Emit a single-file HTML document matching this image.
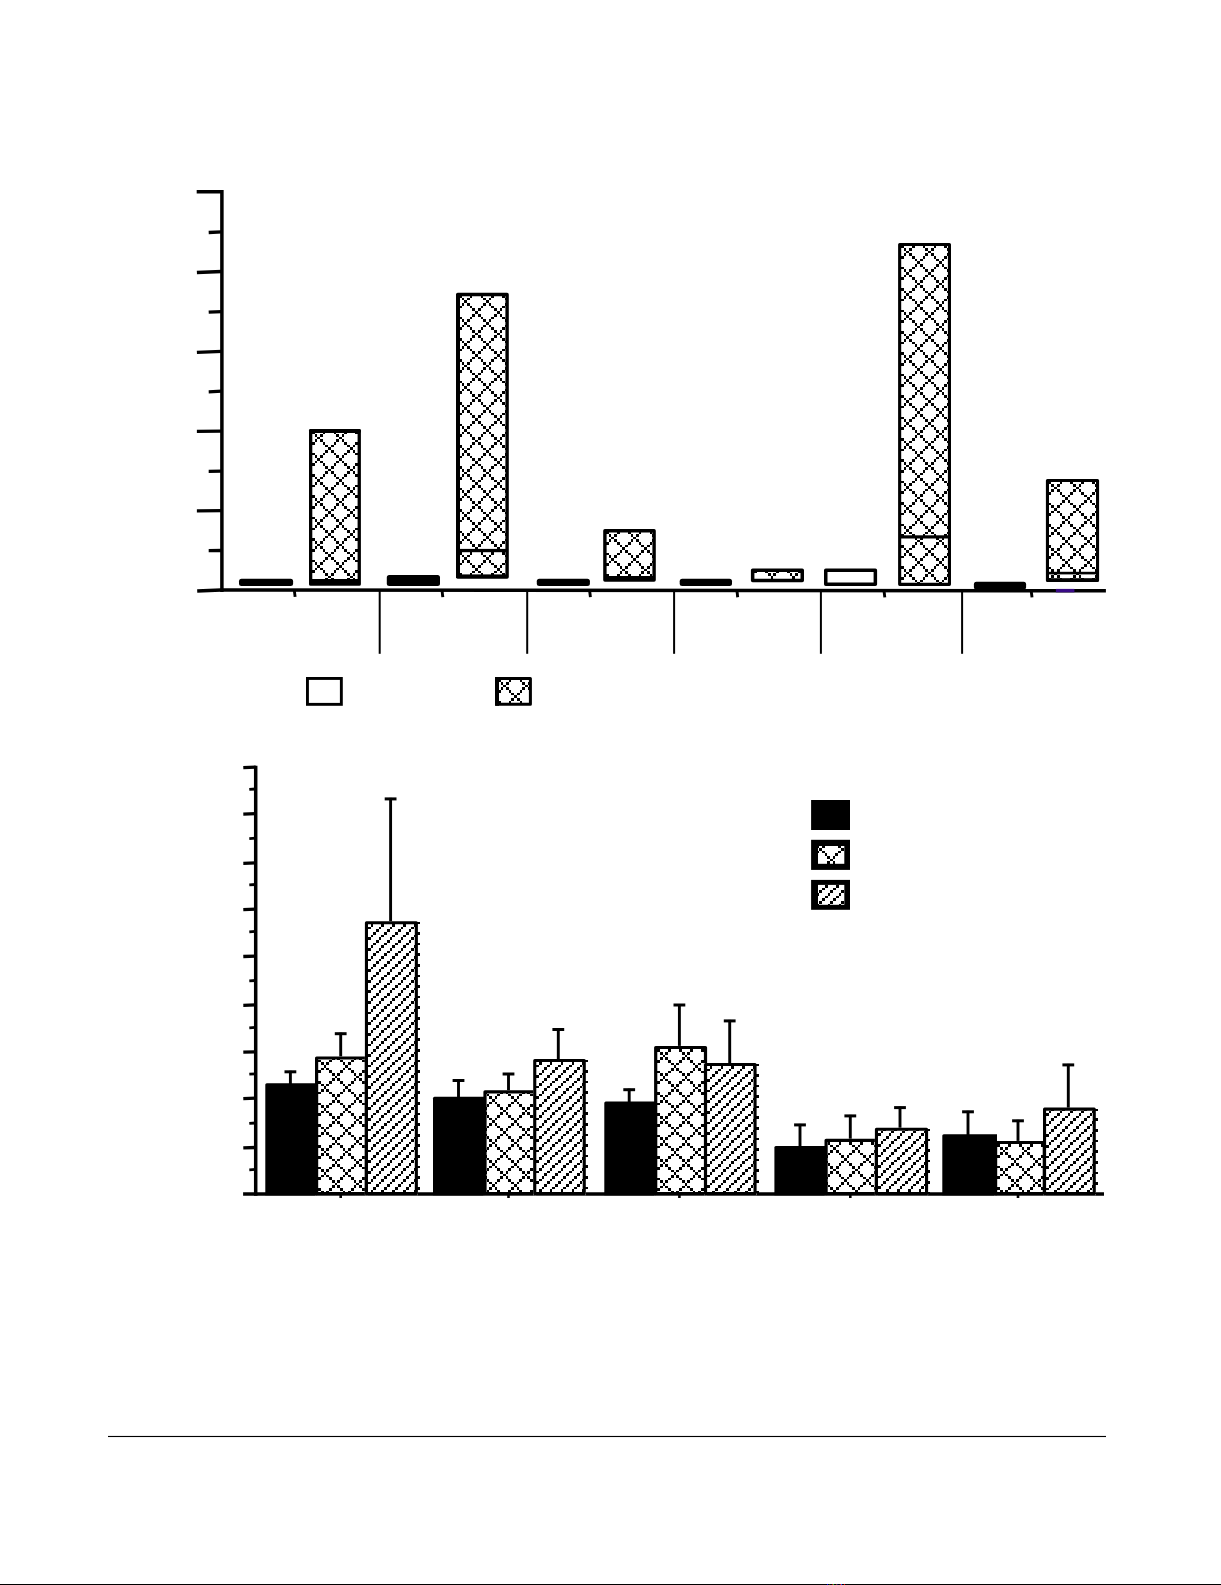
<!DOCTYPE html>
<html><head><meta charset="utf-8"><title>Figure</title>
<style>
html,body{margin:0;padding:0;background:#fff;font-family:"Liberation Sans",sans-serif;}
body{width:1221px;height:1585px;overflow:hidden;position:relative;}
svg{position:absolute;left:0;top:0;display:block;}
</style></head>
<body>
<svg width="1221" height="1585" viewBox="0 0 1221 1585">
<rect width="1221" height="1585" fill="#fff"/>
<line x1="221.90" y1="190.10" x2="221.90" y2="591.90" stroke="#000" stroke-width="3.5" />
<path d="M197.2 591.1 L221 590.1 L1105.9 590.7" fill="none" stroke="#000" stroke-width="3.5"/>
<line x1="196.70" y1="191.80" x2="221.90" y2="191.70" stroke="#000" stroke-width="3.4" />
<line x1="196.90" y1="272.50" x2="221.90" y2="271.50" stroke="#000" stroke-width="3.3" />
<line x1="196.90" y1="352.30" x2="221.90" y2="351.30" stroke="#000" stroke-width="3.3" />
<line x1="196.90" y1="431.30" x2="221.90" y2="431.10" stroke="#000" stroke-width="3.3" />
<line x1="196.90" y1="510.90" x2="221.90" y2="510.70" stroke="#000" stroke-width="3.3" />
<line x1="208.70" y1="232.50" x2="221.90" y2="231.90" stroke="#000" stroke-width="3.3" />
<line x1="208.70" y1="312.20" x2="221.90" y2="311.60" stroke="#000" stroke-width="3.3" />
<line x1="208.70" y1="391.80" x2="221.90" y2="391.20" stroke="#000" stroke-width="3.3" />
<line x1="208.70" y1="471.30" x2="221.90" y2="471.10" stroke="#000" stroke-width="3.3" />
<line x1="208.70" y1="550.70" x2="221.90" y2="550.50" stroke="#000" stroke-width="3.3" />
<line x1="294.30" y1="590.15" x2="295.10" y2="596.95" stroke="#000" stroke-width="2.9" />
<line x1="442.00" y1="590.25" x2="442.80" y2="597.05" stroke="#000" stroke-width="2.9" />
<line x1="589.60" y1="590.35" x2="590.40" y2="597.15" stroke="#000" stroke-width="2.9" />
<line x1="736.90" y1="590.45" x2="737.70" y2="597.25" stroke="#000" stroke-width="2.9" />
<line x1="884.00" y1="590.55" x2="884.80" y2="597.35" stroke="#000" stroke-width="2.9" />
<line x1="1031.20" y1="590.65" x2="1032.00" y2="597.45" stroke="#000" stroke-width="2.9" />
<line x1="379.70" y1="590.10" x2="379.70" y2="653.80" stroke="#000" stroke-width="2.0" />
<line x1="527.20" y1="590.10" x2="527.20" y2="653.80" stroke="#000" stroke-width="2.0" />
<line x1="674.10" y1="590.10" x2="674.10" y2="653.80" stroke="#000" stroke-width="2.0" />
<line x1="820.90" y1="590.10" x2="820.90" y2="653.80" stroke="#000" stroke-width="2.0" />
<line x1="962.10" y1="590.10" x2="962.10" y2="653.80" stroke="#000" stroke-width="2.0" />
<rect x="239.00" y="578.70" width="54.10" height="7.20" rx="2.5" fill="#000"/>
<rect x="386.80" y="575.00" width="53.20" height="10.90" rx="2.5" fill="#000"/>
<rect x="536.80" y="578.70" width="53.10" height="7.20" rx="2.5" fill="#000"/>
<rect x="679.70" y="578.70" width="52.30" height="7.20" rx="2.5" fill="#000"/>
<rect x="973.90" y="581.80" width="52.20" height="7.70" rx="2.5" fill="#000"/>
<rect x="309.00" y="428.90" width="51.90" height="156.90" fill="#fff" />
<path d="M310 430h2v1h-2zM325 430h3v1h-3zM331 430h3v1h-3zM347 430h3v1h-3zM353 430h2v1h-2zM312 431h3v3h-3zM323 431h2v3h-2zM334 431h2v3h-2zM344 431h3v3h-3zM355 431h3v3h-3zM315 434h2v3h-2zM320 434h3v3h-3zM336 434h3v3h-3zM342 434h2v3h-2zM358 434h2v3h-2zM317 437h3v2h-3zM339 437h3v2h-3zM315 439h2v3h-2zM320 439h3v3h-3zM336 439h3v3h-3zM342 439h2v3h-2zM358 439h2v3h-2zM312 442h3v3h-3zM323 442h2v3h-2zM334 442h2v3h-2zM344 442h3v3h-3zM355 442h3v3h-3zM310 445h2v2h-2zM325 445h3v2h-3zM331 445h3v2h-3zM347 445h3v2h-3zM353 445h2v2h-2zM328 447h3v3h-3zM350 447h3v3h-3zM310 450h2v3h-2zM325 450h3v3h-3zM331 450h3v3h-3zM347 450h3v3h-3zM353 450h2v3h-2zM312 453h3v2h-3zM323 453h2v2h-2zM334 453h2v2h-2zM344 453h3v2h-3zM355 453h3v2h-3zM315 455h2v3h-2zM320 455h3v3h-3zM336 455h3v3h-3zM342 455h2v3h-2zM358 455h2v3h-2zM317 458h3v3h-3zM339 458h3v3h-3zM315 461h2v2h-2zM320 461h3v2h-3zM336 461h3v2h-3zM342 461h2v2h-2zM358 461h2v2h-2zM312 463h3v3h-3zM323 463h2v3h-2zM334 463h2v3h-2zM344 463h3v3h-3zM355 463h3v3h-3zM310 466h2v3h-2zM325 466h3v3h-3zM331 466h3v3h-3zM347 466h3v3h-3zM353 466h2v3h-2zM328 469h3v2h-3zM350 469h3v2h-3zM310 471h2v3h-2zM325 471h3v3h-3zM331 471h3v3h-3zM347 471h3v3h-3zM353 471h2v3h-2zM312 474h3v3h-3zM323 474h2v3h-2zM334 474h2v3h-2zM344 474h3v3h-3zM355 474h3v3h-3zM315 477h2v2h-2zM320 477h3v2h-3zM336 477h3v2h-3zM342 477h2v2h-2zM358 477h2v2h-2zM317 479h3v3h-3zM339 479h3v3h-3zM315 482h2v3h-2zM320 482h3v3h-3zM336 482h3v3h-3zM342 482h2v3h-2zM358 482h2v3h-2zM312 485h3v2h-3zM323 485h2v2h-2zM334 485h2v2h-2zM344 485h3v2h-3zM355 485h3v2h-3zM310 487h2v3h-2zM325 487h3v3h-3zM331 487h3v3h-3zM347 487h3v3h-3zM353 487h2v3h-2zM328 490h3v3h-3zM350 490h3v3h-3zM310 493h2v2h-2zM325 493h3v2h-3zM331 493h3v2h-3zM347 493h3v2h-3zM353 493h2v2h-2zM312 495h3v3h-3zM323 495h2v3h-2zM334 495h2v3h-2zM344 495h3v3h-3zM355 495h3v3h-3zM315 498h2v3h-2zM320 498h3v3h-3zM336 498h3v3h-3zM342 498h2v3h-2zM358 498h2v3h-2zM317 501h3v2h-3zM339 501h3v2h-3zM315 503h2v3h-2zM320 503h3v3h-3zM336 503h3v3h-3zM342 503h2v3h-2zM358 503h2v3h-2zM312 506h3v3h-3zM323 506h2v3h-2zM334 506h2v3h-2zM344 506h3v3h-3zM355 506h3v3h-3zM310 509h2v2h-2zM325 509h3v2h-3zM331 509h3v2h-3zM347 509h3v2h-3zM353 509h2v2h-2zM328 511h3v3h-3zM350 511h3v3h-3zM310 514h2v3h-2zM325 514h3v3h-3zM331 514h3v3h-3zM347 514h3v3h-3zM353 514h2v3h-2zM312 517h3v2h-3zM323 517h2v2h-2zM334 517h2v2h-2zM344 517h3v2h-3zM355 517h3v2h-3zM315 519h2v3h-2zM320 519h3v3h-3zM336 519h3v3h-3zM342 519h2v3h-2zM358 519h2v3h-2zM317 522h3v3h-3zM339 522h3v3h-3zM315 525h2v3h-2zM320 525h3v3h-3zM336 525h3v3h-3zM342 525h2v3h-2zM358 525h2v3h-2zM312 528h3v2h-3zM323 528h2v2h-2zM334 528h2v2h-2zM344 528h3v2h-3zM355 528h3v2h-3zM310 530h2v3h-2zM325 530h3v3h-3zM331 530h3v3h-3zM347 530h3v3h-3zM353 530h2v3h-2zM328 533h3v3h-3zM350 533h3v3h-3zM310 536h2v2h-2zM325 536h3v2h-3zM331 536h3v2h-3zM347 536h3v2h-3zM353 536h2v2h-2zM312 538h3v3h-3zM323 538h2v3h-2zM334 538h2v3h-2zM344 538h3v3h-3zM355 538h3v3h-3zM315 541h2v3h-2zM320 541h3v3h-3zM336 541h3v3h-3zM342 541h2v3h-2zM358 541h2v3h-2zM317 544h3v2h-3zM339 544h3v2h-3zM315 546h2v3h-2zM320 546h3v3h-3zM336 546h3v3h-3zM342 546h2v3h-2zM358 546h2v3h-2zM312 549h3v3h-3zM323 549h2v3h-2zM334 549h2v3h-2zM344 549h3v3h-3zM355 549h3v3h-3zM310 552h2v2h-2zM325 552h3v2h-3zM331 552h3v2h-3zM347 552h3v2h-3zM353 552h2v2h-2zM328 554h3v3h-3zM350 554h3v3h-3zM310 557h2v3h-2zM325 557h3v3h-3zM331 557h3v3h-3zM347 557h3v3h-3zM353 557h2v3h-2zM312 560h3v2h-3zM323 560h2v2h-2zM334 560h2v2h-2zM344 560h3v2h-3zM355 560h3v2h-3zM315 562h2v3h-2zM320 562h3v3h-3zM336 562h3v3h-3zM342 562h2v3h-2zM358 562h2v3h-2zM317 565h3v3h-3zM339 565h3v3h-3zM315 568h2v2h-2zM320 568h3v2h-3zM336 568h3v2h-3zM342 568h2v2h-2zM358 568h2v2h-2zM312 570h3v3h-3zM323 570h2v3h-2zM334 570h2v3h-2zM344 570h3v3h-3zM355 570h3v3h-3zM310 573h2v3h-2zM325 573h3v3h-3zM331 573h3v3h-3zM347 573h3v3h-3zM353 573h2v3h-2zM328 576h3v2h-3zM350 576h3v2h-3zM310 578h2v3h-2zM325 578h3v3h-3zM331 578h3v3h-3zM347 578h3v3h-3zM353 578h2v3h-2zM312 581h3v3h-3zM323 581h2v3h-2zM334 581h2v3h-2zM344 581h3v3h-3zM355 581h3v3h-3zM315 584h2v1h-2zM320 584h3v1h-3zM336 584h3v1h-3zM342 584h2v1h-2zM358 584h2v1h-2z" fill="#000" shape-rendering="crispEdges"/>
<rect x="310.65" y="430.55" width="48.60" height="153.60" fill="none" stroke="#000" stroke-width="3.3" stroke-linejoin="round"/>
<rect x="310.00" y="579.00" width="50.00" height="6.00" fill="#000" />
<rect x="309.00" y="428.90" width="51.90" height="4.10" fill="#000" rx="1.5"/>
<rect x="456.00" y="292.80" width="52.80" height="285.90" fill="#fff" />
<path d="M457 294h2v1h-2zM472 294h3v1h-3zM478 294h3v1h-3zM494 294h3v1h-3zM500 294h2v1h-2zM459 295h3v3h-3zM470 295h2v3h-2zM481 295h2v3h-2zM491 295h3v3h-3zM502 295h3v3h-3zM462 298h2v2h-2zM467 298h3v2h-3zM483 298h3v2h-3zM489 298h2v2h-2zM505 298h3v2h-3zM464 300h3v3h-3zM486 300h3v3h-3zM462 303h2v3h-2zM467 303h3v3h-3zM483 303h3v3h-3zM489 303h2v3h-2zM505 303h3v3h-3zM459 306h3v2h-3zM470 306h2v2h-2zM481 306h2v2h-2zM491 306h3v2h-3zM502 306h3v2h-3zM457 308h2v3h-2zM472 308h3v3h-3zM478 308h3v3h-3zM494 308h3v3h-3zM500 308h2v3h-2zM475 311h3v3h-3zM497 311h3v3h-3zM457 314h2v3h-2zM472 314h3v3h-3zM478 314h3v3h-3zM494 314h3v3h-3zM500 314h2v3h-2zM459 317h3v2h-3zM470 317h2v2h-2zM481 317h2v2h-2zM491 317h3v2h-3zM502 317h3v2h-3zM462 319h2v3h-2zM467 319h3v3h-3zM483 319h3v3h-3zM489 319h2v3h-2zM505 319h3v3h-3zM464 322h3v3h-3zM486 322h3v3h-3zM462 325h2v2h-2zM467 325h3v2h-3zM483 325h3v2h-3zM489 325h2v2h-2zM505 325h3v2h-3zM459 327h3v3h-3zM470 327h2v3h-2zM481 327h2v3h-2zM491 327h3v3h-3zM502 327h3v3h-3zM457 330h2v3h-2zM472 330h3v3h-3zM478 330h3v3h-3zM494 330h3v3h-3zM500 330h2v3h-2zM475 333h3v2h-3zM497 333h3v2h-3zM457 335h2v3h-2zM472 335h3v3h-3zM478 335h3v3h-3zM494 335h3v3h-3zM500 335h2v3h-2zM459 338h3v3h-3zM470 338h2v3h-2zM481 338h2v3h-2zM491 338h3v3h-3zM502 338h3v3h-3zM462 341h2v2h-2zM467 341h3v2h-3zM483 341h3v2h-3zM489 341h2v2h-2zM505 341h3v2h-3zM464 343h3v3h-3zM486 343h3v3h-3zM462 346h2v3h-2zM467 346h3v3h-3zM483 346h3v3h-3zM489 346h2v3h-2zM505 346h3v3h-3zM459 349h3v2h-3zM470 349h2v2h-2zM481 349h2v2h-2zM491 349h3v2h-3zM502 349h3v2h-3zM457 351h2v3h-2zM472 351h3v3h-3zM478 351h3v3h-3zM494 351h3v3h-3zM500 351h2v3h-2zM475 354h3v3h-3zM497 354h3v3h-3zM457 357h2v2h-2zM472 357h3v2h-3zM478 357h3v2h-3zM494 357h3v2h-3zM500 357h2v2h-2zM459 359h3v3h-3zM470 359h2v3h-2zM481 359h2v3h-2zM491 359h3v3h-3zM502 359h3v3h-3zM462 362h2v3h-2zM467 362h3v3h-3zM483 362h3v3h-3zM489 362h2v3h-2zM505 362h3v3h-3zM464 365h3v2h-3zM486 365h3v2h-3zM462 367h2v3h-2zM467 367h3v3h-3zM483 367h3v3h-3zM489 367h2v3h-2zM505 367h3v3h-3zM459 370h3v3h-3zM470 370h2v3h-2zM481 370h2v3h-2zM491 370h3v3h-3zM502 370h3v3h-3zM457 373h2v2h-2zM472 373h3v2h-3zM478 373h3v2h-3zM494 373h3v2h-3zM500 373h2v2h-2zM475 375h3v3h-3zM497 375h3v3h-3zM457 378h2v3h-2zM472 378h3v3h-3zM478 378h3v3h-3zM494 378h3v3h-3zM500 378h2v3h-2zM459 381h3v2h-3zM470 381h2v2h-2zM481 381h2v2h-2zM491 381h3v2h-3zM502 381h3v2h-3zM462 383h2v3h-2zM467 383h3v3h-3zM483 383h3v3h-3zM489 383h2v3h-2zM505 383h3v3h-3zM464 386h3v3h-3zM486 386h3v3h-3zM462 389h2v2h-2zM467 389h3v2h-3zM483 389h3v2h-3zM489 389h2v2h-2zM505 389h3v2h-3zM459 391h3v3h-3zM470 391h2v3h-2zM481 391h2v3h-2zM491 391h3v3h-3zM502 391h3v3h-3zM457 394h2v3h-2zM472 394h3v3h-3zM478 394h3v3h-3zM494 394h3v3h-3zM500 394h2v3h-2zM475 397h3v2h-3zM497 397h3v2h-3zM457 399h2v3h-2zM472 399h3v3h-3zM478 399h3v3h-3zM494 399h3v3h-3zM500 399h2v3h-2zM459 402h3v3h-3zM470 402h2v3h-2zM481 402h2v3h-2zM491 402h3v3h-3zM502 402h3v3h-3zM462 405h2v2h-2zM467 405h3v2h-3zM483 405h3v2h-3zM489 405h2v2h-2zM505 405h3v2h-3zM464 407h3v3h-3zM486 407h3v3h-3zM462 410h2v3h-2zM467 410h3v3h-3zM483 410h3v3h-3zM489 410h2v3h-2zM505 410h3v3h-3zM459 413h3v2h-3zM470 413h2v2h-2zM481 413h2v2h-2zM491 413h3v2h-3zM502 413h3v2h-3zM457 415h2v3h-2zM472 415h3v3h-3zM478 415h3v3h-3zM494 415h3v3h-3zM500 415h2v3h-2zM475 418h3v3h-3zM497 418h3v3h-3zM457 421h2v3h-2zM472 421h3v3h-3zM478 421h3v3h-3zM494 421h3v3h-3zM500 421h2v3h-2zM459 424h3v2h-3zM470 424h2v2h-2zM481 424h2v2h-2zM491 424h3v2h-3zM502 424h3v2h-3zM462 426h2v3h-2zM467 426h3v3h-3zM483 426h3v3h-3zM489 426h2v3h-2zM505 426h3v3h-3zM464 429h3v3h-3zM486 429h3v3h-3zM462 432h2v2h-2zM467 432h3v2h-3zM483 432h3v2h-3zM489 432h2v2h-2zM505 432h3v2h-3zM459 434h3v3h-3zM470 434h2v3h-2zM481 434h2v3h-2zM491 434h3v3h-3zM502 434h3v3h-3zM457 437h2v3h-2zM472 437h3v3h-3zM478 437h3v3h-3zM494 437h3v3h-3zM500 437h2v3h-2zM475 440h3v2h-3zM497 440h3v2h-3zM457 442h2v3h-2zM472 442h3v3h-3zM478 442h3v3h-3zM494 442h3v3h-3zM500 442h2v3h-2zM459 445h3v3h-3zM470 445h2v3h-2zM481 445h2v3h-2zM491 445h3v3h-3zM502 445h3v3h-3zM462 448h2v2h-2zM467 448h3v2h-3zM483 448h3v2h-3zM489 448h2v2h-2zM505 448h3v2h-3zM464 450h3v3h-3zM486 450h3v3h-3zM462 453h2v3h-2zM467 453h3v3h-3zM483 453h3v3h-3zM489 453h2v3h-2zM505 453h3v3h-3zM459 456h3v2h-3zM470 456h2v2h-2zM481 456h2v2h-2zM491 456h3v2h-3zM502 456h3v2h-3zM457 458h2v3h-2zM472 458h3v3h-3zM478 458h3v3h-3zM494 458h3v3h-3zM500 458h2v3h-2zM475 461h3v3h-3zM497 461h3v3h-3zM457 464h2v2h-2zM472 464h3v2h-3zM478 464h3v2h-3zM494 464h3v2h-3zM500 464h2v2h-2zM459 466h3v3h-3zM470 466h2v3h-2zM481 466h2v3h-2zM491 466h3v3h-3zM502 466h3v3h-3zM462 469h2v3h-2zM467 469h3v3h-3zM483 469h3v3h-3zM489 469h2v3h-2zM505 469h3v3h-3zM464 472h3v2h-3zM486 472h3v2h-3zM462 474h2v3h-2zM467 474h3v3h-3zM483 474h3v3h-3zM489 474h2v3h-2zM505 474h3v3h-3zM459 477h3v3h-3zM470 477h2v3h-2zM481 477h2v3h-2zM491 477h3v3h-3zM502 477h3v3h-3zM457 480h2v2h-2zM472 480h3v2h-3zM478 480h3v2h-3zM494 480h3v2h-3zM500 480h2v2h-2zM475 482h3v3h-3zM497 482h3v3h-3zM457 485h2v3h-2zM472 485h3v3h-3zM478 485h3v3h-3zM494 485h3v3h-3zM500 485h2v3h-2zM459 488h3v2h-3zM470 488h2v2h-2zM481 488h2v2h-2zM491 488h3v2h-3zM502 488h3v2h-3zM462 490h2v3h-2zM467 490h3v3h-3zM483 490h3v3h-3zM489 490h2v3h-2zM505 490h3v3h-3zM464 493h3v3h-3zM486 493h3v3h-3zM462 496h2v2h-2zM467 496h3v2h-3zM483 496h3v2h-3zM489 496h2v2h-2zM505 496h3v2h-3zM459 498h3v3h-3zM470 498h2v3h-2zM481 498h2v3h-2zM491 498h3v3h-3zM502 498h3v3h-3zM457 501h2v3h-2zM472 501h3v3h-3zM478 501h3v3h-3zM494 501h3v3h-3zM500 501h2v3h-2zM475 504h3v2h-3zM497 504h3v2h-3zM457 506h2v3h-2zM472 506h3v3h-3zM478 506h3v3h-3zM494 506h3v3h-3zM500 506h2v3h-2zM459 509h3v3h-3zM470 509h2v3h-2zM481 509h2v3h-2zM491 509h3v3h-3zM502 509h3v3h-3zM462 512h2v2h-2zM467 512h3v2h-3zM483 512h3v2h-3zM489 512h2v2h-2zM505 512h3v2h-3zM464 514h3v3h-3zM486 514h3v3h-3zM462 517h2v3h-2zM467 517h3v3h-3zM483 517h3v3h-3zM489 517h2v3h-2zM505 517h3v3h-3zM459 520h3v2h-3zM470 520h2v2h-2zM481 520h2v2h-2zM491 520h3v2h-3zM502 520h3v2h-3zM457 522h2v3h-2zM472 522h3v3h-3zM478 522h3v3h-3zM494 522h3v3h-3zM500 522h2v3h-2zM475 525h3v3h-3zM497 525h3v3h-3zM457 528h2v3h-2zM472 528h3v3h-3zM478 528h3v3h-3zM494 528h3v3h-3zM500 528h2v3h-2zM459 531h3v2h-3zM470 531h2v2h-2zM481 531h2v2h-2zM491 531h3v2h-3zM502 531h3v2h-3zM462 533h2v3h-2zM467 533h3v3h-3zM483 533h3v3h-3zM489 533h2v3h-2zM505 533h3v3h-3zM464 536h3v3h-3zM486 536h3v3h-3zM462 539h2v2h-2zM467 539h3v2h-3zM483 539h3v2h-3zM489 539h2v2h-2zM505 539h3v2h-3zM459 541h3v3h-3zM470 541h2v3h-2zM481 541h2v3h-2zM491 541h3v3h-3zM502 541h3v3h-3zM457 544h2v3h-2zM472 544h3v3h-3zM478 544h3v3h-3zM494 544h3v3h-3zM500 544h2v3h-2zM475 547h3v2h-3zM497 547h3v2h-3zM457 549h2v3h-2zM472 549h3v3h-3zM478 549h3v3h-3zM494 549h3v3h-3zM500 549h2v3h-2zM459 552h3v3h-3zM470 552h2v3h-2zM481 552h2v3h-2zM491 552h3v3h-3zM502 552h3v3h-3zM462 555h2v2h-2zM467 555h3v2h-3zM483 555h3v2h-3zM489 555h2v2h-2zM505 555h3v2h-3zM464 557h3v3h-3zM486 557h3v3h-3zM462 560h2v3h-2zM467 560h3v3h-3zM483 560h3v3h-3zM489 560h2v3h-2zM505 560h3v3h-3zM459 563h3v2h-3zM470 563h2v2h-2zM481 563h2v2h-2zM491 563h3v2h-3zM502 563h3v2h-3zM457 565h2v3h-2zM472 565h3v3h-3zM478 565h3v3h-3zM494 565h3v3h-3zM500 565h2v3h-2zM475 568h3v3h-3zM497 568h3v3h-3zM457 571h2v2h-2zM472 571h3v2h-3zM478 571h3v2h-3zM494 571h3v2h-3zM500 571h2v2h-2zM459 573h3v3h-3zM470 573h2v3h-2zM481 573h2v3h-2zM491 573h3v3h-3zM502 573h3v3h-3zM462 576h2v2h-2zM467 576h3v2h-3zM483 576h3v2h-3zM489 576h2v2h-2zM505 576h3v2h-3z" fill="#000" shape-rendering="crispEdges"/>
<rect x="457.70" y="294.50" width="49.40" height="282.50" fill="none" stroke="#000" stroke-width="3.4" stroke-linejoin="round"/>
<rect x="457.00" y="548.90" width="51.00" height="3.30" fill="#000" />
<rect x="456.00" y="294.00" width="4.00" height="284.00" fill="#000" />
<rect x="457.00" y="574.40" width="51.00" height="3.60" fill="#000" />
<rect x="603.20" y="529.00" width="52.60" height="52.80" fill="#fff" />
<path d="M604 530h2v1h-2zM620 530h2v1h-2zM625 530h3v1h-3zM641 530h3v1h-3zM647 530h3v1h-3zM606 531h3v3h-3zM617 531h3v3h-3zM628 531h3v3h-3zM639 531h2v3h-2zM650 531h2v3h-2zM609 534h2v3h-2zM614 534h3v3h-3zM631 534h2v3h-2zM636 534h3v3h-3zM652 534h3v3h-3zM611 537h3v2h-3zM633 537h3v2h-3zM609 539h2v3h-2zM614 539h3v3h-3zM631 539h2v3h-2zM636 539h3v3h-3zM652 539h3v3h-3zM606 542h3v3h-3zM617 542h3v3h-3zM628 542h3v3h-3zM639 542h2v3h-2zM650 542h2v3h-2zM604 545h2v2h-2zM620 545h2v2h-2zM625 545h3v2h-3zM641 545h3v2h-3zM647 545h3v2h-3zM622 547h3v3h-3zM644 547h3v3h-3zM604 550h2v3h-2zM620 550h2v3h-2zM625 550h3v3h-3zM641 550h3v3h-3zM647 550h3v3h-3zM606 553h3v2h-3zM617 553h3v2h-3zM628 553h3v2h-3zM639 553h2v2h-2zM650 553h2v2h-2zM609 555h2v3h-2zM614 555h3v3h-3zM631 555h2v3h-2zM636 555h3v3h-3zM652 555h3v3h-3zM611 558h3v3h-3zM633 558h3v3h-3zM609 561h2v2h-2zM614 561h3v2h-3zM631 561h2v2h-2zM636 561h3v2h-3zM652 561h3v2h-3zM606 563h3v3h-3zM617 563h3v3h-3zM628 563h3v3h-3zM639 563h2v3h-2zM650 563h2v3h-2zM604 566h2v3h-2zM620 566h2v3h-2zM625 566h3v3h-3zM641 566h3v3h-3zM647 566h3v3h-3zM622 569h3v2h-3zM644 569h3v2h-3zM604 571h2v3h-2zM620 571h2v3h-2zM625 571h3v3h-3zM641 571h3v3h-3zM647 571h3v3h-3zM606 574h3v3h-3zM617 574h3v3h-3zM628 574h3v3h-3zM639 574h2v3h-2zM650 574h2v3h-2zM609 577h2v2h-2zM614 577h3v2h-3zM631 577h2v2h-2zM636 577h3v2h-3zM652 577h3v2h-3zM611 579h3v2h-3zM633 579h3v2h-3z" fill="#000" shape-rendering="crispEdges"/>
<rect x="604.90" y="530.70" width="49.20" height="49.40" fill="none" stroke="#000" stroke-width="3.4" stroke-linejoin="round"/>
<rect x="604.00" y="576.00" width="51.00" height="5.00" fill="#000" />
<rect x="750.90" y="568.60" width="53.10" height="13.60" fill="#fff" />
<path d="M757 570h3v1h-3zM762 570h3v1h-3zM779 570h3v1h-3zM784 570h3v1h-3zM801 570h2v1h-2zM754 571h3v2h-3zM765 571h3v2h-3zM776 571h3v2h-3zM787 571h3v2h-3zM798 571h3v2h-3zM752 573h2v3h-2zM768 573h3v3h-3zM773 573h3v3h-3zM790 573h2v3h-2zM795 573h3v3h-3zM771 576h2v3h-2zM792 576h3v3h-3zM752 579h2v2h-2zM768 579h3v2h-3zM773 579h3v2h-3zM790 579h2v2h-2zM795 579h3v2h-3z" fill="#000" shape-rendering="crispEdges"/>
<rect x="752.65" y="570.35" width="49.60" height="10.10" fill="none" stroke="#000" stroke-width="3.5" stroke-linejoin="round"/>
<rect x="825.75" y="570.35" width="49.60" height="13.80" fill="none" stroke="#000" stroke-width="3.5" stroke-linejoin="round"/>
<rect x="898.10" y="243.00" width="52.90" height="342.90" fill="#fff" />
<path d="M899 244h2v1h-2zM915 244h2v1h-2zM920 244h3v1h-3zM936 244h3v1h-3zM942 244h2v1h-2zM901 245h3v3h-3zM912 245h3v3h-3zM923 245h2v3h-2zM934 245h2v3h-2zM944 245h3v3h-3zM904 248h2v3h-2zM909 248h3v3h-3zM925 248h3v3h-3zM931 248h3v3h-3zM947 248h3v3h-3zM906 251h3v2h-3zM928 251h3v2h-3zM904 253h2v3h-2zM909 253h3v3h-3zM925 253h3v3h-3zM931 253h3v3h-3zM947 253h3v3h-3zM901 256h3v3h-3zM912 256h3v3h-3zM923 256h2v3h-2zM934 256h2v3h-2zM944 256h3v3h-3zM899 259h2v2h-2zM915 259h2v2h-2zM920 259h3v2h-3zM936 259h3v2h-3zM942 259h2v2h-2zM917 261h3v3h-3zM939 261h3v3h-3zM899 264h2v3h-2zM915 264h2v3h-2zM920 264h3v3h-3zM936 264h3v3h-3zM942 264h2v3h-2zM901 267h3v2h-3zM912 267h3v2h-3zM923 267h2v2h-2zM934 267h2v2h-2zM944 267h3v2h-3zM904 269h2v3h-2zM909 269h3v3h-3zM925 269h3v3h-3zM931 269h3v3h-3zM947 269h3v3h-3zM906 272h3v3h-3zM928 272h3v3h-3zM904 275h2v2h-2zM909 275h3v2h-3zM925 275h3v2h-3zM931 275h3v2h-3zM947 275h3v2h-3zM901 277h3v3h-3zM912 277h3v3h-3zM923 277h2v3h-2zM934 277h2v3h-2zM944 277h3v3h-3zM899 280h2v3h-2zM915 280h2v3h-2zM920 280h3v3h-3zM936 280h3v3h-3zM942 280h2v3h-2zM917 283h3v2h-3zM939 283h3v2h-3zM899 285h2v3h-2zM915 285h2v3h-2zM920 285h3v3h-3zM936 285h3v3h-3zM942 285h2v3h-2zM901 288h3v3h-3zM912 288h3v3h-3zM923 288h2v3h-2zM934 288h2v3h-2zM944 288h3v3h-3zM904 291h2v2h-2zM909 291h3v2h-3zM925 291h3v2h-3zM931 291h3v2h-3zM947 291h3v2h-3zM906 293h3v3h-3zM928 293h3v3h-3zM904 296h2v3h-2zM909 296h3v3h-3zM925 296h3v3h-3zM931 296h3v3h-3zM947 296h3v3h-3zM901 299h3v2h-3zM912 299h3v2h-3zM923 299h2v2h-2zM934 299h2v2h-2zM944 299h3v2h-3zM899 301h2v3h-2zM915 301h2v3h-2zM920 301h3v3h-3zM936 301h3v3h-3zM942 301h2v3h-2zM917 304h3v3h-3zM939 304h3v3h-3zM899 307h2v3h-2zM915 307h2v3h-2zM920 307h3v3h-3zM936 307h3v3h-3zM942 307h2v3h-2zM901 310h3v2h-3zM912 310h3v2h-3zM923 310h2v2h-2zM934 310h2v2h-2zM944 310h3v2h-3zM904 312h2v3h-2zM909 312h3v3h-3zM925 312h3v3h-3zM931 312h3v3h-3zM947 312h3v3h-3zM906 315h3v3h-3zM928 315h3v3h-3zM904 318h2v2h-2zM909 318h3v2h-3zM925 318h3v2h-3zM931 318h3v2h-3zM947 318h3v2h-3zM901 320h3v3h-3zM912 320h3v3h-3zM923 320h2v3h-2zM934 320h2v3h-2zM944 320h3v3h-3zM899 323h2v3h-2zM915 323h2v3h-2zM920 323h3v3h-3zM936 323h3v3h-3zM942 323h2v3h-2zM917 326h3v2h-3zM939 326h3v2h-3zM899 328h2v3h-2zM915 328h2v3h-2zM920 328h3v3h-3zM936 328h3v3h-3zM942 328h2v3h-2zM901 331h3v3h-3zM912 331h3v3h-3zM923 331h2v3h-2zM934 331h2v3h-2zM944 331h3v3h-3zM904 334h2v2h-2zM909 334h3v2h-3zM925 334h3v2h-3zM931 334h3v2h-3zM947 334h3v2h-3zM906 336h3v3h-3zM928 336h3v3h-3zM904 339h2v3h-2zM909 339h3v3h-3zM925 339h3v3h-3zM931 339h3v3h-3zM947 339h3v3h-3zM901 342h3v2h-3zM912 342h3v2h-3zM923 342h2v2h-2zM934 342h2v2h-2zM944 342h3v2h-3zM899 344h2v3h-2zM915 344h2v3h-2zM920 344h3v3h-3zM936 344h3v3h-3zM942 344h2v3h-2zM917 347h3v3h-3zM939 347h3v3h-3zM899 350h2v2h-2zM915 350h2v2h-2zM920 350h3v2h-3zM936 350h3v2h-3zM942 350h2v2h-2zM901 352h3v3h-3zM912 352h3v3h-3zM923 352h2v3h-2zM934 352h2v3h-2zM944 352h3v3h-3zM904 355h2v3h-2zM909 355h3v3h-3zM925 355h3v3h-3zM931 355h3v3h-3zM947 355h3v3h-3zM906 358h3v2h-3zM928 358h3v2h-3zM904 360h2v3h-2zM909 360h3v3h-3zM925 360h3v3h-3zM931 360h3v3h-3zM947 360h3v3h-3zM901 363h3v3h-3zM912 363h3v3h-3zM923 363h2v3h-2zM934 363h2v3h-2zM944 363h3v3h-3zM899 366h2v2h-2zM915 366h2v2h-2zM920 366h3v2h-3zM936 366h3v2h-3zM942 366h2v2h-2zM917 368h3v3h-3zM939 368h3v3h-3zM899 371h2v3h-2zM915 371h2v3h-2zM920 371h3v3h-3zM936 371h3v3h-3zM942 371h2v3h-2zM901 374h3v2h-3zM912 374h3v2h-3zM923 374h2v2h-2zM934 374h2v2h-2zM944 374h3v2h-3zM904 376h2v3h-2zM909 376h3v3h-3zM925 376h3v3h-3zM931 376h3v3h-3zM947 376h3v3h-3zM906 379h3v3h-3zM928 379h3v3h-3zM904 382h2v2h-2zM909 382h3v2h-3zM925 382h3v2h-3zM931 382h3v2h-3zM947 382h3v2h-3zM901 384h3v3h-3zM912 384h3v3h-3zM923 384h2v3h-2zM934 384h2v3h-2zM944 384h3v3h-3zM899 387h2v3h-2zM915 387h2v3h-2zM920 387h3v3h-3zM936 387h3v3h-3zM942 387h2v3h-2zM917 390h3v2h-3zM939 390h3v2h-3zM899 392h2v3h-2zM915 392h2v3h-2zM920 392h3v3h-3zM936 392h3v3h-3zM942 392h2v3h-2zM901 395h3v3h-3zM912 395h3v3h-3zM923 395h2v3h-2zM934 395h2v3h-2zM944 395h3v3h-3zM904 398h2v2h-2zM909 398h3v2h-3zM925 398h3v2h-3zM931 398h3v2h-3zM947 398h3v2h-3zM906 400h3v3h-3zM928 400h3v3h-3zM904 403h2v3h-2zM909 403h3v3h-3zM925 403h3v3h-3zM931 403h3v3h-3zM947 403h3v3h-3zM901 406h3v2h-3zM912 406h3v2h-3zM923 406h2v2h-2zM934 406h2v2h-2zM944 406h3v2h-3zM899 408h2v3h-2zM915 408h2v3h-2zM920 408h3v3h-3zM936 408h3v3h-3zM942 408h2v3h-2zM917 411h3v3h-3zM939 411h3v3h-3zM899 414h2v3h-2zM915 414h2v3h-2zM920 414h3v3h-3zM936 414h3v3h-3zM942 414h2v3h-2zM901 417h3v2h-3zM912 417h3v2h-3zM923 417h2v2h-2zM934 417h2v2h-2zM944 417h3v2h-3zM904 419h2v3h-2zM909 419h3v3h-3zM925 419h3v3h-3zM931 419h3v3h-3zM947 419h3v3h-3zM906 422h3v3h-3zM928 422h3v3h-3zM904 425h2v2h-2zM909 425h3v2h-3zM925 425h3v2h-3zM931 425h3v2h-3zM947 425h3v2h-3zM901 427h3v3h-3zM912 427h3v3h-3zM923 427h2v3h-2zM934 427h2v3h-2zM944 427h3v3h-3zM899 430h2v3h-2zM915 430h2v3h-2zM920 430h3v3h-3zM936 430h3v3h-3zM942 430h2v3h-2zM917 433h3v2h-3zM939 433h3v2h-3zM899 435h2v3h-2zM915 435h2v3h-2zM920 435h3v3h-3zM936 435h3v3h-3zM942 435h2v3h-2zM901 438h3v3h-3zM912 438h3v3h-3zM923 438h2v3h-2zM934 438h2v3h-2zM944 438h3v3h-3zM904 441h2v2h-2zM909 441h3v2h-3zM925 441h3v2h-3zM931 441h3v2h-3zM947 441h3v2h-3zM906 443h3v3h-3zM928 443h3v3h-3zM904 446h2v3h-2zM909 446h3v3h-3zM925 446h3v3h-3zM931 446h3v3h-3zM947 446h3v3h-3zM901 449h3v2h-3zM912 449h3v2h-3zM923 449h2v2h-2zM934 449h2v2h-2zM944 449h3v2h-3zM899 451h2v3h-2zM915 451h2v3h-2zM920 451h3v3h-3zM936 451h3v3h-3zM942 451h2v3h-2zM917 454h3v3h-3zM939 454h3v3h-3zM899 457h2v2h-2zM915 457h2v2h-2zM920 457h3v2h-3zM936 457h3v2h-3zM942 457h2v2h-2zM901 459h3v3h-3zM912 459h3v3h-3zM923 459h2v3h-2zM934 459h2v3h-2zM944 459h3v3h-3zM904 462h2v3h-2zM909 462h3v3h-3zM925 462h3v3h-3zM931 462h3v3h-3zM947 462h3v3h-3zM906 465h3v2h-3zM928 465h3v2h-3zM904 467h2v3h-2zM909 467h3v3h-3zM925 467h3v3h-3zM931 467h3v3h-3zM947 467h3v3h-3zM901 470h3v3h-3zM912 470h3v3h-3zM923 470h2v3h-2zM934 470h2v3h-2zM944 470h3v3h-3zM899 473h2v2h-2zM915 473h2v2h-2zM920 473h3v2h-3zM936 473h3v2h-3zM942 473h2v2h-2zM917 475h3v3h-3zM939 475h3v3h-3zM899 478h2v3h-2zM915 478h2v3h-2zM920 478h3v3h-3zM936 478h3v3h-3zM942 478h2v3h-2zM901 481h3v2h-3zM912 481h3v2h-3zM923 481h2v2h-2zM934 481h2v2h-2zM944 481h3v2h-3zM904 483h2v3h-2zM909 483h3v3h-3zM925 483h3v3h-3zM931 483h3v3h-3zM947 483h3v3h-3zM906 486h3v3h-3zM928 486h3v3h-3zM904 489h2v2h-2zM909 489h3v2h-3zM925 489h3v2h-3zM931 489h3v2h-3zM947 489h3v2h-3zM901 491h3v3h-3zM912 491h3v3h-3zM923 491h2v3h-2zM934 491h2v3h-2zM944 491h3v3h-3zM899 494h2v3h-2zM915 494h2v3h-2zM920 494h3v3h-3zM936 494h3v3h-3zM942 494h2v3h-2zM917 497h3v2h-3zM939 497h3v2h-3zM899 499h2v3h-2zM915 499h2v3h-2zM920 499h3v3h-3zM936 499h3v3h-3zM942 499h2v3h-2zM901 502h3v3h-3zM912 502h3v3h-3zM923 502h2v3h-2zM934 502h2v3h-2zM944 502h3v3h-3zM904 505h2v2h-2zM909 505h3v2h-3zM925 505h3v2h-3zM931 505h3v2h-3zM947 505h3v2h-3zM906 507h3v3h-3zM928 507h3v3h-3zM904 510h2v3h-2zM909 510h3v3h-3zM925 510h3v3h-3zM931 510h3v3h-3zM947 510h3v3h-3zM901 513h3v2h-3zM912 513h3v2h-3zM923 513h2v2h-2zM934 513h2v2h-2zM944 513h3v2h-3zM899 515h2v3h-2zM915 515h2v3h-2zM920 515h3v3h-3zM936 515h3v3h-3zM942 515h2v3h-2zM917 518h3v3h-3zM939 518h3v3h-3zM899 521h2v3h-2zM915 521h2v3h-2zM920 521h3v3h-3zM936 521h3v3h-3zM942 521h2v3h-2zM901 524h3v2h-3zM912 524h3v2h-3zM923 524h2v2h-2zM934 524h2v2h-2zM944 524h3v2h-3zM904 526h2v3h-2zM909 526h3v3h-3zM925 526h3v3h-3zM931 526h3v3h-3zM947 526h3v3h-3zM906 529h3v3h-3zM928 529h3v3h-3zM904 532h2v2h-2zM909 532h3v2h-3zM925 532h3v2h-3zM931 532h3v2h-3zM947 532h3v2h-3zM901 534h3v3h-3zM912 534h3v3h-3zM923 534h2v3h-2zM934 534h2v3h-2zM944 534h3v3h-3zM899 537h2v3h-2zM915 537h2v3h-2zM920 537h3v3h-3zM936 537h3v3h-3zM942 537h2v3h-2zM917 540h3v2h-3zM939 540h3v2h-3zM899 542h2v3h-2zM915 542h2v3h-2zM920 542h3v3h-3zM936 542h3v3h-3zM942 542h2v3h-2zM901 545h3v3h-3zM912 545h3v3h-3zM923 545h2v3h-2zM934 545h2v3h-2zM944 545h3v3h-3zM904 548h2v2h-2zM909 548h3v2h-3zM925 548h3v2h-3zM931 548h3v2h-3zM947 548h3v2h-3zM906 550h3v3h-3zM928 550h3v3h-3zM904 553h2v3h-2zM909 553h3v3h-3zM925 553h3v3h-3zM931 553h3v3h-3zM947 553h3v3h-3zM901 556h3v2h-3zM912 556h3v2h-3zM923 556h2v2h-2zM934 556h2v2h-2zM944 556h3v2h-3zM899 558h2v3h-2zM915 558h2v3h-2zM920 558h3v3h-3zM936 558h3v3h-3zM942 558h2v3h-2zM917 561h3v3h-3zM939 561h3v3h-3zM899 564h2v2h-2zM915 564h2v2h-2zM920 564h3v2h-3zM936 564h3v2h-3zM942 564h2v2h-2zM901 566h3v3h-3zM912 566h3v3h-3zM923 566h2v3h-2zM934 566h2v3h-2zM944 566h3v3h-3zM904 569h2v3h-2zM909 569h3v3h-3zM925 569h3v3h-3zM931 569h3v3h-3zM947 569h3v3h-3zM906 572h3v2h-3zM928 572h3v2h-3zM904 574h2v3h-2zM909 574h3v3h-3zM925 574h3v3h-3zM931 574h3v3h-3zM947 574h3v3h-3zM901 577h3v3h-3zM912 577h3v3h-3zM923 577h2v3h-2zM934 577h2v3h-2zM944 577h3v3h-3zM899 580h2v2h-2zM915 580h2v2h-2zM920 580h3v2h-3zM936 580h3v2h-3zM942 580h2v2h-2zM917 582h3v3h-3zM939 582h3v3h-3z" fill="#000" shape-rendering="crispEdges"/>
<rect x="899.65" y="244.55" width="49.80" height="339.80" fill="none" stroke="#000" stroke-width="3.1" stroke-linejoin="round"/>
<rect x="899.00" y="535.30" width="51.00" height="3.20" fill="#000" />
<rect x="1045.90" y="478.90" width="53.20" height="103.10" fill="#fff" />
<path d="M1047 480h2v1h-2zM1062 480h3v1h-3zM1068 480h2v1h-2zM1084 480h3v1h-3zM1090 480h2v1h-2zM1049 481h2v3h-2zM1060 481h2v3h-2zM1070 481h3v3h-3zM1081 481h3v3h-3zM1092 481h3v3h-3zM1051 484h3v3h-3zM1057 484h3v3h-3zM1073 484h3v3h-3zM1079 484h2v3h-2zM1095 484h3v3h-3zM1054 487h3v2h-3zM1076 487h3v2h-3zM1051 489h3v3h-3zM1057 489h3v3h-3zM1073 489h3v3h-3zM1079 489h2v3h-2zM1095 489h3v3h-3zM1049 492h2v3h-2zM1060 492h2v3h-2zM1070 492h3v3h-3zM1081 492h3v3h-3zM1092 492h3v3h-3zM1047 495h2v2h-2zM1062 495h3v2h-3zM1068 495h2v2h-2zM1084 495h3v2h-3zM1090 495h2v2h-2zM1065 497h3v3h-3zM1087 497h3v3h-3zM1047 500h2v3h-2zM1062 500h3v3h-3zM1068 500h2v3h-2zM1084 500h3v3h-3zM1090 500h2v3h-2zM1049 503h2v2h-2zM1060 503h2v2h-2zM1070 503h3v2h-3zM1081 503h3v2h-3zM1092 503h3v2h-3zM1051 505h3v3h-3zM1057 505h3v3h-3zM1073 505h3v3h-3zM1079 505h2v3h-2zM1095 505h3v3h-3zM1054 508h3v3h-3zM1076 508h3v3h-3zM1051 511h3v2h-3zM1057 511h3v2h-3zM1073 511h3v2h-3zM1079 511h2v2h-2zM1095 511h3v2h-3zM1049 513h2v3h-2zM1060 513h2v3h-2zM1070 513h3v3h-3zM1081 513h3v3h-3zM1092 513h3v3h-3zM1047 516h2v3h-2zM1062 516h3v3h-3zM1068 516h2v3h-2zM1084 516h3v3h-3zM1090 516h2v3h-2zM1065 519h3v2h-3zM1087 519h3v2h-3zM1047 521h2v3h-2zM1062 521h3v3h-3zM1068 521h2v3h-2zM1084 521h3v3h-3zM1090 521h2v3h-2zM1049 524h2v3h-2zM1060 524h2v3h-2zM1070 524h3v3h-3zM1081 524h3v3h-3zM1092 524h3v3h-3zM1051 527h3v2h-3zM1057 527h3v2h-3zM1073 527h3v2h-3zM1079 527h2v2h-2zM1095 527h3v2h-3zM1054 529h3v3h-3zM1076 529h3v3h-3zM1051 532h3v3h-3zM1057 532h3v3h-3zM1073 532h3v3h-3zM1079 532h2v3h-2zM1095 532h3v3h-3zM1049 535h2v2h-2zM1060 535h2v2h-2zM1070 535h3v2h-3zM1081 535h3v2h-3zM1092 535h3v2h-3zM1047 537h2v3h-2zM1062 537h3v3h-3zM1068 537h2v3h-2zM1084 537h3v3h-3zM1090 537h2v3h-2zM1065 540h3v3h-3zM1087 540h3v3h-3zM1047 543h2v2h-2zM1062 543h3v2h-3zM1068 543h2v2h-2zM1084 543h3v2h-3zM1090 543h2v2h-2zM1049 545h2v3h-2zM1060 545h2v3h-2zM1070 545h3v3h-3zM1081 545h3v3h-3zM1092 545h3v3h-3zM1051 548h3v3h-3zM1057 548h3v3h-3zM1073 548h3v3h-3zM1079 548h2v3h-2zM1095 548h3v3h-3zM1054 551h3v2h-3zM1076 551h3v2h-3zM1051 553h3v3h-3zM1057 553h3v3h-3zM1073 553h3v3h-3zM1079 553h2v3h-2zM1095 553h3v3h-3zM1049 556h2v3h-2zM1060 556h2v3h-2zM1070 556h3v3h-3zM1081 556h3v3h-3zM1092 556h3v3h-3zM1047 559h2v2h-2zM1062 559h3v2h-3zM1068 559h2v2h-2zM1084 559h3v2h-3zM1090 559h2v2h-2zM1065 561h3v3h-3zM1087 561h3v3h-3zM1047 564h2v3h-2zM1062 564h3v3h-3zM1068 564h2v3h-2zM1084 564h3v3h-3zM1090 564h2v3h-2zM1049 567h2v2h-2zM1060 567h2v2h-2zM1070 567h3v2h-3zM1081 567h3v2h-3zM1092 567h3v2h-3zM1051 569h3v3h-3zM1057 569h3v3h-3zM1073 569h3v3h-3zM1079 569h2v3h-2zM1095 569h3v3h-3zM1054 572h3v3h-3zM1076 572h3v3h-3zM1051 575h3v3h-3zM1057 575h3v3h-3zM1073 575h3v3h-3zM1079 575h2v3h-2zM1095 575h3v3h-3zM1049 578h2v2h-2zM1060 578h2v2h-2zM1070 578h3v2h-3zM1081 578h3v2h-3zM1092 578h3v2h-3zM1047 580h2v1h-2zM1062 580h3v1h-3zM1068 580h2v1h-2zM1084 580h3v1h-3zM1090 580h2v1h-2z" fill="#000" shape-rendering="crispEdges"/>
<rect x="1047.45" y="480.45" width="50.10" height="100.00" fill="none" stroke="#000" stroke-width="3.1" stroke-linejoin="round"/>
<rect x="1047.00" y="571.80" width="51.00" height="2.60" fill="#000" />
<rect x="1047.00" y="578.20" width="51.00" height="3.30" fill="#000" />
<rect x="1055.90" y="588.90" width="18.50" height="3.40" fill="#380a85" />
<rect x="307.45" y="678.45" width="33.90" height="25.90" fill="none" stroke="#000" stroke-width="2.9" stroke-linejoin="miter"/>
<rect x="495.00" y="677.00" width="36.90" height="28.80" fill="#fff" />
<path d="M496 678h2v1h-2zM511 678h3v1h-3zM517 678h3v1h-3zM498 679h3v3h-3zM509 679h2v3h-2zM520 679h2v3h-2zM530 679h1v3h-1zM501 682h2v3h-2zM506 682h3v3h-3zM522 682h3v3h-3zM528 682h2v3h-2zM503 685h3v2h-3zM525 685h3v2h-3zM501 687h2v3h-2zM506 687h3v3h-3zM522 687h3v3h-3zM528 687h2v3h-2zM498 690h3v3h-3zM509 690h2v3h-2zM520 690h2v3h-2zM530 690h1v3h-1zM496 693h2v2h-2zM511 693h3v2h-3zM517 693h3v2h-3zM514 695h3v3h-3zM496 698h2v3h-2zM511 698h3v3h-3zM517 698h3v3h-3zM498 701h3v2h-3zM509 701h2v2h-2zM520 701h2v2h-2zM530 701h1v2h-1zM501 703h2v2h-2zM506 703h3v2h-3zM522 703h3v2h-3zM528 703h2v2h-2z" fill="#000" shape-rendering="crispEdges"/>
<rect x="496.50" y="678.50" width="33.90" height="25.80" fill="none" stroke="#000" stroke-width="3.0" stroke-linejoin="round"/>
<rect x="495.00" y="677.00" width="4.00" height="28.80" fill="#000" />
<line x1="255.70" y1="765.80" x2="255.70" y2="1195.70" stroke="#000" stroke-width="3.5" />
<line x1="243.10" y1="1194.00" x2="1104.00" y2="1194.00" stroke="#000" stroke-width="3.5" />
<line x1="243.30" y1="767.60" x2="255.70" y2="767.20" stroke="#000" stroke-width="3.3" />
<line x1="243.30" y1="814.10" x2="255.70" y2="813.70" stroke="#000" stroke-width="3.3" />
<line x1="243.30" y1="863.30" x2="255.70" y2="862.90" stroke="#000" stroke-width="3.3" />
<line x1="243.30" y1="909.60" x2="255.70" y2="909.20" stroke="#000" stroke-width="3.3" />
<line x1="243.30" y1="956.50" x2="255.70" y2="956.10" stroke="#000" stroke-width="3.3" />
<line x1="243.30" y1="1005.30" x2="255.70" y2="1004.90" stroke="#000" stroke-width="3.3" />
<line x1="243.30" y1="1052.20" x2="255.70" y2="1051.80" stroke="#000" stroke-width="3.3" />
<line x1="243.30" y1="1098.60" x2="255.70" y2="1098.20" stroke="#000" stroke-width="3.3" />
<line x1="243.30" y1="1147.90" x2="255.70" y2="1147.50" stroke="#000" stroke-width="3.3" />
<line x1="249.30" y1="789.40" x2="255.70" y2="789.00" stroke="#000" stroke-width="2.8" />
<line x1="249.30" y1="838.60" x2="255.70" y2="838.20" stroke="#000" stroke-width="2.8" />
<line x1="249.30" y1="884.90" x2="255.70" y2="884.50" stroke="#000" stroke-width="2.8" />
<line x1="249.30" y1="931.80" x2="255.70" y2="931.40" stroke="#000" stroke-width="2.8" />
<line x1="249.30" y1="980.90" x2="255.70" y2="980.50" stroke="#000" stroke-width="2.8" />
<line x1="249.30" y1="1027.80" x2="255.70" y2="1027.40" stroke="#000" stroke-width="2.8" />
<line x1="249.30" y1="1074.20" x2="255.70" y2="1073.80" stroke="#000" stroke-width="2.8" />
<line x1="249.30" y1="1123.40" x2="255.70" y2="1123.00" stroke="#000" stroke-width="2.8" />
<line x1="249.30" y1="1169.80" x2="255.70" y2="1169.40" stroke="#000" stroke-width="2.8" />
<line x1="290.40" y1="1070.80" x2="290.40" y2="1084.70" stroke="#000" stroke-width="2.9" />
<line x1="284.50" y1="1071.80" x2="296.30" y2="1071.80" stroke="#000" stroke-width="3.0" />
<line x1="340.70" y1="1032.70" x2="340.70" y2="1057.90" stroke="#000" stroke-width="2.9" />
<line x1="334.80" y1="1033.70" x2="346.60" y2="1033.70" stroke="#000" stroke-width="3.0" />
<line x1="390.60" y1="797.90" x2="390.60" y2="922.70" stroke="#000" stroke-width="2.9" />
<line x1="384.70" y1="798.90" x2="396.50" y2="798.90" stroke="#000" stroke-width="3.0" />
<rect x="315.00" y="1056.40" width="52.90" height="138.80" fill="#fff" />
<path d="M316 1057h2v3h-2zM332 1057h3v3h-3zM337 1057h3v3h-3zM354 1057h2v3h-2zM359 1057h3v3h-3zM318 1060h3v2h-3zM329 1060h3v2h-3zM340 1060h3v2h-3zM351 1060h3v2h-3zM362 1060h3v2h-3zM321 1062h3v3h-3zM326 1062h3v3h-3zM343 1062h2v3h-2zM348 1062h3v3h-3zM365 1062h2v3h-2zM324 1065h2v3h-2zM345 1065h3v3h-3zM321 1068h3v2h-3zM326 1068h3v2h-3zM343 1068h2v2h-2zM348 1068h3v2h-3zM365 1068h2v2h-2zM318 1070h3v3h-3zM329 1070h3v3h-3zM340 1070h3v3h-3zM351 1070h3v3h-3zM362 1070h3v3h-3zM316 1073h2v3h-2zM332 1073h3v3h-3zM337 1073h3v3h-3zM354 1073h2v3h-2zM359 1073h3v3h-3zM335 1076h2v2h-2zM356 1076h3v2h-3zM316 1078h2v3h-2zM332 1078h3v3h-3zM337 1078h3v3h-3zM354 1078h2v3h-2zM359 1078h3v3h-3zM318 1081h3v3h-3zM329 1081h3v3h-3zM340 1081h3v3h-3zM351 1081h3v3h-3zM362 1081h3v3h-3zM321 1084h3v2h-3zM326 1084h3v2h-3zM343 1084h2v2h-2zM348 1084h3v2h-3zM365 1084h2v2h-2zM324 1086h2v3h-2zM345 1086h3v3h-3zM321 1089h3v3h-3zM326 1089h3v3h-3zM343 1089h2v3h-2zM348 1089h3v3h-3zM365 1089h2v3h-2zM318 1092h3v2h-3zM329 1092h3v2h-3zM340 1092h3v2h-3zM351 1092h3v2h-3zM362 1092h3v2h-3zM316 1094h2v3h-2zM332 1094h3v3h-3zM337 1094h3v3h-3zM354 1094h2v3h-2zM359 1094h3v3h-3zM335 1097h2v3h-2zM356 1097h3v3h-3zM316 1100h2v3h-2zM332 1100h3v3h-3zM337 1100h3v3h-3zM354 1100h2v3h-2zM359 1100h3v3h-3zM318 1103h3v2h-3zM329 1103h3v2h-3zM340 1103h3v2h-3zM351 1103h3v2h-3zM362 1103h3v2h-3zM321 1105h3v3h-3zM326 1105h3v3h-3zM343 1105h2v3h-2zM348 1105h3v3h-3zM365 1105h2v3h-2zM324 1108h2v3h-2zM345 1108h3v3h-3zM321 1111h3v2h-3zM326 1111h3v2h-3zM343 1111h2v2h-2zM348 1111h3v2h-3zM365 1111h2v2h-2zM318 1113h3v3h-3zM329 1113h3v3h-3zM340 1113h3v3h-3zM351 1113h3v3h-3zM362 1113h3v3h-3zM316 1116h2v3h-2zM332 1116h3v3h-3zM337 1116h3v3h-3zM354 1116h2v3h-2zM359 1116h3v3h-3zM335 1119h2v2h-2zM356 1119h3v2h-3zM316 1121h2v3h-2zM332 1121h3v3h-3zM337 1121h3v3h-3zM354 1121h2v3h-2zM359 1121h3v3h-3zM318 1124h3v3h-3zM329 1124h3v3h-3zM340 1124h3v3h-3zM351 1124h3v3h-3zM362 1124h3v3h-3zM321 1127h3v2h-3zM326 1127h3v2h-3zM343 1127h2v2h-2zM348 1127h3v2h-3zM365 1127h2v2h-2zM324 1129h2v3h-2zM345 1129h3v3h-3zM321 1132h3v3h-3zM326 1132h3v3h-3zM343 1132h2v3h-2zM348 1132h3v3h-3zM365 1132h2v3h-2zM318 1135h3v2h-3zM329 1135h3v2h-3zM340 1135h3v2h-3zM351 1135h3v2h-3zM362 1135h3v2h-3zM316 1137h2v3h-2zM332 1137h3v3h-3zM337 1137h3v3h-3zM354 1137h2v3h-2zM359 1137h3v3h-3zM335 1140h2v3h-2zM356 1140h3v3h-3zM316 1143h2v2h-2zM332 1143h3v2h-3zM337 1143h3v2h-3zM354 1143h2v2h-2zM359 1143h3v2h-3zM318 1145h3v3h-3zM329 1145h3v3h-3zM340 1145h3v3h-3zM351 1145h3v3h-3zM362 1145h3v3h-3zM321 1148h3v3h-3zM326 1148h3v3h-3zM343 1148h2v3h-2zM348 1148h3v3h-3zM365 1148h2v3h-2zM324 1151h2v2h-2zM345 1151h3v2h-3zM321 1153h3v3h-3zM326 1153h3v3h-3zM343 1153h2v3h-2zM348 1153h3v3h-3zM365 1153h2v3h-2zM318 1156h3v3h-3zM329 1156h3v3h-3zM340 1156h3v3h-3zM351 1156h3v3h-3zM362 1156h3v3h-3zM316 1159h2v2h-2zM332 1159h3v2h-3zM337 1159h3v2h-3zM354 1159h2v2h-2zM359 1159h3v2h-3zM335 1161h2v3h-2zM356 1161h3v3h-3zM316 1164h2v3h-2zM332 1164h3v3h-3zM337 1164h3v3h-3zM354 1164h2v3h-2zM359 1164h3v3h-3zM318 1167h3v2h-3zM329 1167h3v2h-3zM340 1167h3v2h-3zM351 1167h3v2h-3zM362 1167h3v2h-3zM321 1169h3v3h-3zM326 1169h3v3h-3zM343 1169h2v3h-2zM348 1169h3v3h-3zM365 1169h2v3h-2zM324 1172h2v3h-2zM345 1172h3v3h-3zM321 1175h3v2h-3zM326 1175h3v2h-3zM343 1175h2v2h-2zM348 1175h3v2h-3zM365 1175h2v2h-2zM318 1177h3v3h-3zM329 1177h3v3h-3zM340 1177h3v3h-3zM351 1177h3v3h-3zM362 1177h3v3h-3zM316 1180h2v3h-2zM332 1180h3v3h-3zM337 1180h3v3h-3zM354 1180h2v3h-2zM359 1180h3v3h-3zM335 1183h2v2h-2zM356 1183h3v2h-3zM316 1185h2v3h-2zM332 1185h3v3h-3zM337 1185h3v3h-3zM354 1185h2v3h-2zM359 1185h3v3h-3zM318 1188h3v3h-3zM329 1188h3v3h-3zM340 1188h3v3h-3zM351 1188h3v3h-3zM362 1188h3v3h-3zM321 1191h3v2h-3zM326 1191h3v2h-3zM343 1191h2v2h-2zM348 1191h3v2h-3zM365 1191h2v2h-2zM324 1193h2v1h-2zM345 1193h3v1h-3z" fill="#000" shape-rendering="crispEdges"/>
<rect x="316.60" y="1058.00" width="49.70" height="135.60" fill="none" stroke="#000" stroke-width="3.2" stroke-linejoin="round"/>
<rect x="364.90" y="921.20" width="53.00" height="274.00" fill="#fff" />
<path d="M373 922h3v2h-3zM384 922h3v2h-3zM395 922h3v2h-3zM406 922h3v2h-3zM417 922h3v2h-3zM371 924h2v3h-2zM381 924h3v3h-3zM392 924h3v3h-3zM403 924h3v3h-3zM414 924h3v3h-3zM368 927h3v2h-3zM379 927h2v2h-2zM390 927h2v2h-2zM401 927h2v2h-2zM411 927h3v2h-3zM366 929h2v3h-2zM376 929h3v3h-3zM387 929h3v3h-3zM398 929h3v3h-3zM409 929h2v3h-2zM373 932h3v3h-3zM384 932h3v3h-3zM395 932h3v3h-3zM406 932h3v3h-3zM417 932h3v3h-3zM371 935h2v2h-2zM381 935h3v2h-3zM392 935h3v2h-3zM403 935h3v2h-3zM414 935h3v2h-3zM368 937h3v3h-3zM379 937h2v3h-2zM390 937h2v3h-2zM401 937h2v3h-2zM411 937h3v3h-3zM366 940h2v3h-2zM376 940h3v3h-3zM387 940h3v3h-3zM398 940h3v3h-3zM409 940h2v3h-2zM373 943h3v2h-3zM384 943h3v2h-3zM395 943h3v2h-3zM406 943h3v2h-3zM417 943h3v2h-3zM371 945h2v3h-2zM381 945h3v3h-3zM392 945h3v3h-3zM403 945h3v3h-3zM414 945h3v3h-3zM368 948h3v3h-3zM379 948h2v3h-2zM390 948h2v3h-2zM401 948h2v3h-2zM411 948h3v3h-3zM366 951h2v2h-2zM376 951h3v2h-3zM387 951h3v2h-3zM398 951h3v2h-3zM409 951h2v2h-2zM373 953h3v3h-3zM384 953h3v3h-3zM395 953h3v3h-3zM406 953h3v3h-3zM417 953h3v3h-3zM371 956h2v3h-2zM381 956h3v3h-3zM392 956h3v3h-3zM403 956h3v3h-3zM414 956h3v3h-3zM368 959h3v2h-3zM379 959h2v2h-2zM390 959h2v2h-2zM401 959h2v2h-2zM411 959h3v2h-3zM366 961h2v3h-2zM376 961h3v3h-3zM387 961h3v3h-3zM398 961h3v3h-3zM409 961h2v3h-2zM373 964h3v3h-3zM384 964h3v3h-3zM395 964h3v3h-3zM406 964h3v3h-3zM417 964h3v3h-3zM371 967h2v2h-2zM381 967h3v2h-3zM392 967h3v2h-3zM403 967h3v2h-3zM414 967h3v2h-3zM368 969h3v3h-3zM379 969h2v3h-2zM390 969h2v3h-2zM401 969h2v3h-2zM411 969h3v3h-3zM366 972h2v3h-2zM376 972h3v3h-3zM387 972h3v3h-3zM398 972h3v3h-3zM409 972h2v3h-2zM373 975h3v2h-3zM384 975h3v2h-3zM395 975h3v2h-3zM406 975h3v2h-3zM417 975h3v2h-3zM371 977h2v3h-2zM381 977h3v3h-3zM392 977h3v3h-3zM403 977h3v3h-3zM414 977h3v3h-3zM368 980h3v3h-3zM379 980h2v3h-2zM390 980h2v3h-2zM401 980h2v3h-2zM411 980h3v3h-3zM366 983h2v2h-2zM376 983h3v2h-3zM387 983h3v2h-3zM398 983h3v2h-3zM409 983h2v2h-2zM373 985h3v3h-3zM384 985h3v3h-3zM395 985h3v3h-3zM406 985h3v3h-3zM417 985h3v3h-3zM371 988h2v2h-2zM381 988h3v2h-3zM392 988h3v2h-3zM403 988h3v2h-3zM414 988h3v2h-3zM368 990h3v3h-3zM379 990h2v3h-2zM390 990h2v3h-2zM401 990h2v3h-2zM411 990h3v3h-3zM366 993h2v3h-2zM376 993h3v3h-3zM387 993h3v3h-3zM398 993h3v3h-3zM409 993h2v3h-2zM373 996h3v2h-3zM384 996h3v2h-3zM395 996h3v2h-3zM406 996h3v2h-3zM417 996h3v2h-3zM371 998h2v3h-2zM381 998h3v3h-3zM392 998h3v3h-3zM403 998h3v3h-3zM414 998h3v3h-3zM368 1001h3v3h-3zM379 1001h2v3h-2zM390 1001h2v3h-2zM401 1001h2v3h-2zM411 1001h3v3h-3zM366 1004h2v2h-2zM376 1004h3v2h-3zM387 1004h3v2h-3zM398 1004h3v2h-3zM409 1004h2v2h-2zM373 1006h3v3h-3zM384 1006h3v3h-3zM395 1006h3v3h-3zM406 1006h3v3h-3zM417 1006h3v3h-3zM371 1009h2v3h-2zM381 1009h3v3h-3zM392 1009h3v3h-3zM403 1009h3v3h-3zM414 1009h3v3h-3zM368 1012h3v2h-3zM379 1012h2v2h-2zM390 1012h2v2h-2zM401 1012h2v2h-2zM411 1012h3v2h-3zM366 1014h2v3h-2zM376 1014h3v3h-3zM387 1014h3v3h-3zM398 1014h3v3h-3zM409 1014h2v3h-2zM373 1017h3v3h-3zM384 1017h3v3h-3zM395 1017h3v3h-3zM406 1017h3v3h-3zM417 1017h3v3h-3zM371 1020h2v2h-2zM381 1020h3v2h-3zM392 1020h3v2h-3zM403 1020h3v2h-3zM414 1020h3v2h-3zM368 1022h3v3h-3zM379 1022h2v3h-2zM390 1022h2v3h-2zM401 1022h2v3h-2zM411 1022h3v3h-3zM366 1025h2v3h-2zM376 1025h3v3h-3zM387 1025h3v3h-3zM398 1025h3v3h-3zM409 1025h2v3h-2zM373 1028h3v2h-3zM384 1028h3v2h-3zM395 1028h3v2h-3zM406 1028h3v2h-3zM417 1028h3v2h-3zM371 1030h2v3h-2zM381 1030h3v3h-3zM392 1030h3v3h-3zM403 1030h3v3h-3zM414 1030h3v3h-3zM368 1033h3v3h-3zM379 1033h2v3h-2zM390 1033h2v3h-2zM401 1033h2v3h-2zM411 1033h3v3h-3zM366 1036h2v2h-2zM376 1036h3v2h-3zM387 1036h3v2h-3zM398 1036h3v2h-3zM409 1036h2v2h-2zM373 1038h3v3h-3zM384 1038h3v3h-3zM395 1038h3v3h-3zM406 1038h3v3h-3zM417 1038h3v3h-3zM371 1041h2v3h-2zM381 1041h3v3h-3zM392 1041h3v3h-3zM403 1041h3v3h-3zM414 1041h3v3h-3zM368 1044h3v2h-3zM379 1044h2v2h-2zM390 1044h2v2h-2zM401 1044h2v2h-2zM411 1044h3v2h-3zM366 1046h2v3h-2zM376 1046h3v3h-3zM387 1046h3v3h-3zM398 1046h3v3h-3zM409 1046h2v3h-2zM373 1049h3v3h-3zM384 1049h3v3h-3zM395 1049h3v3h-3zM406 1049h3v3h-3zM417 1049h3v3h-3zM371 1052h2v2h-2zM381 1052h3v2h-3zM392 1052h3v2h-3zM403 1052h3v2h-3zM414 1052h3v2h-3zM368 1054h3v3h-3zM379 1054h2v3h-2zM390 1054h2v3h-2zM401 1054h2v3h-2zM411 1054h3v3h-3zM366 1057h2v3h-2zM376 1057h3v3h-3zM387 1057h3v3h-3zM398 1057h3v3h-3zM409 1057h2v3h-2zM373 1060h3v2h-3zM384 1060h3v2h-3zM395 1060h3v2h-3zM406 1060h3v2h-3zM417 1060h3v2h-3zM371 1062h2v3h-2zM381 1062h3v3h-3zM392 1062h3v3h-3zM403 1062h3v3h-3zM414 1062h3v3h-3zM368 1065h3v2h-3zM379 1065h2v2h-2zM390 1065h2v2h-2zM401 1065h2v2h-2zM411 1065h3v2h-3zM366 1067h2v3h-2zM376 1067h3v3h-3zM387 1067h3v3h-3zM398 1067h3v3h-3zM409 1067h2v3h-2zM373 1070h3v3h-3zM384 1070h3v3h-3zM395 1070h3v3h-3zM406 1070h3v3h-3zM417 1070h3v3h-3zM371 1073h2v2h-2zM381 1073h3v2h-3zM392 1073h3v2h-3zM403 1073h3v2h-3zM414 1073h3v2h-3zM368 1075h3v3h-3zM379 1075h2v3h-2zM390 1075h2v3h-2zM401 1075h2v3h-2zM411 1075h3v3h-3zM366 1078h2v3h-2zM376 1078h3v3h-3zM387 1078h3v3h-3zM398 1078h3v3h-3zM409 1078h2v3h-2zM373 1081h3v2h-3zM384 1081h3v2h-3zM395 1081h3v2h-3zM406 1081h3v2h-3zM417 1081h3v2h-3zM371 1083h2v3h-2zM381 1083h3v3h-3zM392 1083h3v3h-3zM403 1083h3v3h-3zM414 1083h3v3h-3zM368 1086h3v3h-3zM379 1086h2v3h-2zM390 1086h2v3h-2zM401 1086h2v3h-2zM411 1086h3v3h-3zM366 1089h2v2h-2zM376 1089h3v2h-3zM387 1089h3v2h-3zM398 1089h3v2h-3zM409 1089h2v2h-2zM373 1091h3v3h-3zM384 1091h3v3h-3zM395 1091h3v3h-3zM406 1091h3v3h-3zM417 1091h3v3h-3zM371 1094h2v3h-2zM381 1094h3v3h-3zM392 1094h3v3h-3zM403 1094h3v3h-3zM414 1094h3v3h-3zM368 1097h3v2h-3zM379 1097h2v2h-2zM390 1097h2v2h-2zM401 1097h2v2h-2zM411 1097h3v2h-3zM366 1099h2v3h-2zM376 1099h3v3h-3zM387 1099h3v3h-3zM398 1099h3v3h-3zM409 1099h2v3h-2zM373 1102h3v3h-3zM384 1102h3v3h-3zM395 1102h3v3h-3zM406 1102h3v3h-3zM417 1102h3v3h-3zM371 1105h2v2h-2zM381 1105h3v2h-3zM392 1105h3v2h-3zM403 1105h3v2h-3zM414 1105h3v2h-3zM368 1107h3v3h-3zM379 1107h2v3h-2zM390 1107h2v3h-2zM401 1107h2v3h-2zM411 1107h3v3h-3zM366 1110h2v3h-2zM376 1110h3v3h-3zM387 1110h3v3h-3zM398 1110h3v3h-3zM409 1110h2v3h-2zM373 1113h3v2h-3zM384 1113h3v2h-3zM395 1113h3v2h-3zM406 1113h3v2h-3zM417 1113h3v2h-3zM371 1115h2v3h-2zM381 1115h3v3h-3zM392 1115h3v3h-3zM403 1115h3v3h-3zM414 1115h3v3h-3zM368 1118h3v3h-3zM379 1118h2v3h-2zM390 1118h2v3h-2zM401 1118h2v3h-2zM411 1118h3v3h-3zM366 1121h2v2h-2zM376 1121h3v2h-3zM387 1121h3v2h-3zM398 1121h3v2h-3zM409 1121h2v2h-2zM373 1123h3v3h-3zM384 1123h3v3h-3zM395 1123h3v3h-3zM406 1123h3v3h-3zM417 1123h3v3h-3zM371 1126h2v3h-2zM381 1126h3v3h-3zM392 1126h3v3h-3zM403 1126h3v3h-3zM414 1126h3v3h-3zM368 1129h3v2h-3zM379 1129h2v2h-2zM390 1129h2v2h-2zM401 1129h2v2h-2zM411 1129h3v2h-3zM366 1131h2v3h-2zM376 1131h3v3h-3zM387 1131h3v3h-3zM398 1131h3v3h-3zM409 1131h2v3h-2zM373 1134h3v3h-3zM384 1134h3v3h-3zM395 1134h3v3h-3zM406 1134h3v3h-3zM417 1134h3v3h-3zM371 1137h2v2h-2zM381 1137h3v2h-3zM392 1137h3v2h-3zM403 1137h3v2h-3zM414 1137h3v2h-3zM368 1139h3v3h-3zM379 1139h2v3h-2zM390 1139h2v3h-2zM401 1139h2v3h-2zM411 1139h3v3h-3zM366 1142h2v2h-2zM376 1142h3v2h-3zM387 1142h3v2h-3zM398 1142h3v2h-3zM409 1142h2v2h-2zM373 1144h3v3h-3zM384 1144h3v3h-3zM395 1144h3v3h-3zM406 1144h3v3h-3zM417 1144h3v3h-3zM371 1147h2v3h-2zM381 1147h3v3h-3zM392 1147h3v3h-3zM403 1147h3v3h-3zM414 1147h3v3h-3zM368 1150h3v2h-3zM379 1150h2v2h-2zM390 1150h2v2h-2zM401 1150h2v2h-2zM411 1150h3v2h-3zM366 1152h2v3h-2zM376 1152h3v3h-3zM387 1152h3v3h-3zM398 1152h3v3h-3zM409 1152h2v3h-2zM373 1155h3v3h-3zM384 1155h3v3h-3zM395 1155h3v3h-3zM406 1155h3v3h-3zM417 1155h3v3h-3zM371 1158h2v2h-2zM381 1158h3v2h-3zM392 1158h3v2h-3zM403 1158h3v2h-3zM414 1158h3v2h-3zM368 1160h3v3h-3zM379 1160h2v3h-2zM390 1160h2v3h-2zM401 1160h2v3h-2zM411 1160h3v3h-3zM366 1163h2v3h-2zM376 1163h3v3h-3zM387 1163h3v3h-3zM398 1163h3v3h-3zM409 1163h2v3h-2zM373 1166h3v2h-3zM384 1166h3v2h-3zM395 1166h3v2h-3zM406 1166h3v2h-3zM417 1166h3v2h-3zM371 1168h2v3h-2zM381 1168h3v3h-3zM392 1168h3v3h-3zM403 1168h3v3h-3zM414 1168h3v3h-3zM368 1171h3v3h-3zM379 1171h2v3h-2zM390 1171h2v3h-2zM401 1171h2v3h-2zM411 1171h3v3h-3zM366 1174h2v2h-2zM376 1174h3v2h-3zM387 1174h3v2h-3zM398 1174h3v2h-3zM409 1174h2v2h-2zM373 1176h3v3h-3zM384 1176h3v3h-3zM395 1176h3v3h-3zM406 1176h3v3h-3zM417 1176h3v3h-3zM371 1179h2v3h-2zM381 1179h3v3h-3zM392 1179h3v3h-3zM403 1179h3v3h-3zM414 1179h3v3h-3zM368 1182h3v2h-3zM379 1182h2v2h-2zM390 1182h2v2h-2zM401 1182h2v2h-2zM411 1182h3v2h-3zM366 1184h2v3h-2zM376 1184h3v3h-3zM387 1184h3v3h-3zM398 1184h3v3h-3zM409 1184h2v3h-2zM373 1187h3v3h-3zM384 1187h3v3h-3zM395 1187h3v3h-3zM406 1187h3v3h-3zM417 1187h3v3h-3zM371 1190h2v2h-2zM381 1190h3v2h-3zM392 1190h3v2h-3zM403 1190h3v2h-3zM414 1190h3v2h-3zM368 1192h3v2h-3zM379 1192h2v2h-2zM390 1192h2v2h-2zM401 1192h2v2h-2zM411 1192h3v2h-3z" fill="#000" shape-rendering="crispEdges"/>
<rect x="366.45" y="922.75" width="49.90" height="270.90" fill="none" stroke="#000" stroke-width="3.1" stroke-linejoin="round"/>
<path d="M265.30 1195.20V1084.70Q265.30 1083.20 266.80 1083.20H317.00V1195.20z" fill="#000"/>
<line x1="458.50" y1="1079.50" x2="458.50" y2="1098.30" stroke="#000" stroke-width="2.9" />
<line x1="452.60" y1="1080.50" x2="464.40" y2="1080.50" stroke="#000" stroke-width="3.0" />
<line x1="508.50" y1="1073.00" x2="508.50" y2="1091.70" stroke="#000" stroke-width="2.9" />
<line x1="502.60" y1="1074.00" x2="514.40" y2="1074.00" stroke="#000" stroke-width="3.0" />
<line x1="558.30" y1="1028.50" x2="558.30" y2="1060.50" stroke="#000" stroke-width="2.9" />
<line x1="552.40" y1="1029.50" x2="564.20" y2="1029.50" stroke="#000" stroke-width="3.0" />
<rect x="483.40" y="1090.20" width="52.80" height="105.00" fill="#fff" />
<path d="M484 1091h3v3h-3zM500 1091h3v3h-3zM506 1091h2v3h-2zM522 1091h3v3h-3zM527 1091h3v3h-3zM487 1094h2v2h-2zM497 1094h3v2h-3zM508 1094h3v2h-3zM519 1094h3v2h-3zM530 1094h3v2h-3zM489 1096h3v3h-3zM495 1096h2v3h-2zM511 1096h3v3h-3zM517 1096h2v3h-2zM533 1096h2v3h-2zM492 1099h3v3h-3zM514 1099h3v3h-3zM489 1102h3v2h-3zM495 1102h2v2h-2zM511 1102h3v2h-3zM517 1102h2v2h-2zM533 1102h2v2h-2zM487 1104h2v3h-2zM497 1104h3v3h-3zM508 1104h3v3h-3zM519 1104h3v3h-3zM530 1104h3v3h-3zM484 1107h3v3h-3zM500 1107h3v3h-3zM506 1107h2v3h-2zM522 1107h3v3h-3zM527 1107h3v3h-3zM503 1110h3v2h-3zM525 1110h2v2h-2zM484 1112h3v3h-3zM500 1112h3v3h-3zM506 1112h2v3h-2zM522 1112h3v3h-3zM527 1112h3v3h-3zM487 1115h2v3h-2zM497 1115h3v3h-3zM508 1115h3v3h-3zM519 1115h3v3h-3zM530 1115h3v3h-3zM489 1118h3v2h-3zM495 1118h2v2h-2zM511 1118h3v2h-3zM517 1118h2v2h-2zM533 1118h2v2h-2zM492 1120h3v3h-3zM514 1120h3v3h-3zM489 1123h3v3h-3zM495 1123h2v3h-2zM511 1123h3v3h-3zM517 1123h2v3h-2zM533 1123h2v3h-2zM487 1126h2v2h-2zM497 1126h3v2h-3zM508 1126h3v2h-3zM519 1126h3v2h-3zM530 1126h3v2h-3zM484 1128h3v3h-3zM500 1128h3v3h-3zM506 1128h2v3h-2zM522 1128h3v3h-3zM527 1128h3v3h-3zM503 1131h3v3h-3zM525 1131h2v3h-2zM484 1134h3v2h-3zM500 1134h3v2h-3zM506 1134h2v2h-2zM522 1134h3v2h-3zM527 1134h3v2h-3zM487 1136h2v3h-2zM497 1136h3v3h-3zM508 1136h3v3h-3zM519 1136h3v3h-3zM530 1136h3v3h-3zM489 1139h3v3h-3zM495 1139h2v3h-2zM511 1139h3v3h-3zM517 1139h2v3h-2zM533 1139h2v3h-2zM492 1142h3v2h-3zM514 1142h3v2h-3zM489 1144h3v3h-3zM495 1144h2v3h-2zM511 1144h3v3h-3zM517 1144h2v3h-2zM533 1144h2v3h-2zM487 1147h2v3h-2zM497 1147h3v3h-3zM508 1147h3v3h-3zM519 1147h3v3h-3zM530 1147h3v3h-3zM484 1150h3v2h-3zM500 1150h3v2h-3zM506 1150h2v2h-2zM522 1150h3v2h-3zM527 1150h3v2h-3zM503 1152h3v3h-3zM525 1152h2v3h-2zM484 1155h3v3h-3zM500 1155h3v3h-3zM506 1155h2v3h-2zM522 1155h3v3h-3zM527 1155h3v3h-3zM487 1158h2v2h-2zM497 1158h3v2h-3zM508 1158h3v2h-3zM519 1158h3v2h-3zM530 1158h3v2h-3zM489 1160h3v3h-3zM495 1160h2v3h-2zM511 1160h3v3h-3zM517 1160h2v3h-2zM533 1160h2v3h-2zM492 1163h3v3h-3zM514 1163h3v3h-3zM489 1166h3v2h-3zM495 1166h2v2h-2zM511 1166h3v2h-3zM517 1166h2v2h-2zM533 1166h2v2h-2zM487 1168h2v3h-2zM497 1168h3v3h-3zM508 1168h3v3h-3zM519 1168h3v3h-3zM530 1168h3v3h-3zM484 1171h3v3h-3zM500 1171h3v3h-3zM506 1171h2v3h-2zM522 1171h3v3h-3zM527 1171h3v3h-3zM503 1174h3v2h-3zM525 1174h2v2h-2zM484 1176h3v3h-3zM500 1176h3v3h-3zM506 1176h2v3h-2zM522 1176h3v3h-3zM527 1176h3v3h-3zM487 1179h2v3h-2zM497 1179h3v3h-3zM508 1179h3v3h-3zM519 1179h3v3h-3zM530 1179h3v3h-3zM489 1182h3v2h-3zM495 1182h2v2h-2zM511 1182h3v2h-3zM517 1182h2v2h-2zM533 1182h2v2h-2zM492 1184h3v3h-3zM514 1184h3v3h-3zM489 1187h3v3h-3zM495 1187h2v3h-2zM511 1187h3v3h-3zM517 1187h2v3h-2zM533 1187h2v3h-2zM487 1190h2v2h-2zM497 1190h3v2h-3zM508 1190h3v2h-3zM519 1190h3v2h-3zM530 1190h3v2h-3zM484 1192h3v2h-3zM500 1192h3v2h-3zM506 1192h2v2h-2zM522 1192h3v2h-3zM527 1192h3v2h-3z" fill="#000" shape-rendering="crispEdges"/>
<rect x="485.00" y="1091.80" width="49.60" height="101.80" fill="none" stroke="#000" stroke-width="3.2" stroke-linejoin="round"/>
<rect x="533.20" y="1059.00" width="52.60" height="136.20" fill="#fff" />
<path d="M542 1060h2v2h-2zM552 1060h3v2h-3zM563 1060h3v2h-3zM574 1060h3v2h-3zM585 1060h3v2h-3zM539 1062h3v3h-3zM550 1062h2v3h-2zM561 1062h2v3h-2zM572 1062h2v3h-2zM582 1062h3v3h-3zM536 1065h3v2h-3zM547 1065h3v2h-3zM558 1065h3v2h-3zM569 1065h3v2h-3zM580 1065h2v2h-2zM534 1067h2v3h-2zM544 1067h3v3h-3zM555 1067h3v3h-3zM566 1067h3v3h-3zM577 1067h3v3h-3zM542 1070h2v3h-2zM552 1070h3v3h-3zM563 1070h3v3h-3zM574 1070h3v3h-3zM585 1070h3v3h-3zM539 1073h3v2h-3zM550 1073h2v2h-2zM561 1073h2v2h-2zM572 1073h2v2h-2zM582 1073h3v2h-3zM536 1075h3v3h-3zM547 1075h3v3h-3zM558 1075h3v3h-3zM569 1075h3v3h-3zM580 1075h2v3h-2zM534 1078h2v3h-2zM544 1078h3v3h-3zM555 1078h3v3h-3zM566 1078h3v3h-3zM577 1078h3v3h-3zM542 1081h2v2h-2zM552 1081h3v2h-3zM563 1081h3v2h-3zM574 1081h3v2h-3zM585 1081h3v2h-3zM539 1083h3v3h-3zM550 1083h2v3h-2zM561 1083h2v3h-2zM572 1083h2v3h-2zM582 1083h3v3h-3zM536 1086h3v2h-3zM547 1086h3v2h-3zM558 1086h3v2h-3zM569 1086h3v2h-3zM580 1086h2v2h-2zM534 1088h2v3h-2zM544 1088h3v3h-3zM555 1088h3v3h-3zM566 1088h3v3h-3zM577 1088h3v3h-3zM542 1091h2v3h-2zM552 1091h3v3h-3zM563 1091h3v3h-3zM574 1091h3v3h-3zM585 1091h3v3h-3zM539 1094h3v2h-3zM550 1094h2v2h-2zM561 1094h2v2h-2zM572 1094h2v2h-2zM582 1094h3v2h-3zM536 1096h3v3h-3zM547 1096h3v3h-3zM558 1096h3v3h-3zM569 1096h3v3h-3zM580 1096h2v3h-2zM534 1099h2v3h-2zM544 1099h3v3h-3zM555 1099h3v3h-3zM566 1099h3v3h-3zM577 1099h3v3h-3zM542 1102h2v2h-2zM552 1102h3v2h-3zM563 1102h3v2h-3zM574 1102h3v2h-3zM585 1102h3v2h-3zM539 1104h3v3h-3zM550 1104h2v3h-2zM561 1104h2v3h-2zM572 1104h2v3h-2zM582 1104h3v3h-3zM536 1107h3v3h-3zM547 1107h3v3h-3zM558 1107h3v3h-3zM569 1107h3v3h-3zM580 1107h2v3h-2zM534 1110h2v2h-2zM544 1110h3v2h-3zM555 1110h3v2h-3zM566 1110h3v2h-3zM577 1110h3v2h-3zM542 1112h2v3h-2zM552 1112h3v3h-3zM563 1112h3v3h-3zM574 1112h3v3h-3zM585 1112h3v3h-3zM539 1115h3v3h-3zM550 1115h2v3h-2zM561 1115h2v3h-2zM572 1115h2v3h-2zM582 1115h3v3h-3zM536 1118h3v2h-3zM547 1118h3v2h-3zM558 1118h3v2h-3zM569 1118h3v2h-3zM580 1118h2v2h-2zM534 1120h2v3h-2zM544 1120h3v3h-3zM555 1120h3v3h-3zM566 1120h3v3h-3zM577 1120h3v3h-3zM542 1123h2v3h-2zM552 1123h3v3h-3zM563 1123h3v3h-3zM574 1123h3v3h-3zM585 1123h3v3h-3zM539 1126h3v2h-3zM550 1126h2v2h-2zM561 1126h2v2h-2zM572 1126h2v2h-2zM582 1126h3v2h-3zM536 1128h3v3h-3zM547 1128h3v3h-3zM558 1128h3v3h-3zM569 1128h3v3h-3zM580 1128h2v3h-2zM534 1131h2v3h-2zM544 1131h3v3h-3zM555 1131h3v3h-3zM566 1131h3v3h-3zM577 1131h3v3h-3zM542 1134h2v2h-2zM552 1134h3v2h-3zM563 1134h3v2h-3zM574 1134h3v2h-3zM585 1134h3v2h-3zM539 1136h3v3h-3zM550 1136h2v3h-2zM561 1136h2v3h-2zM572 1136h2v3h-2zM582 1136h3v3h-3zM536 1139h3v3h-3zM547 1139h3v3h-3zM558 1139h3v3h-3zM569 1139h3v3h-3zM580 1139h2v3h-2zM534 1142h2v2h-2zM544 1142h3v2h-3zM555 1142h3v2h-3zM566 1142h3v2h-3zM577 1142h3v2h-3zM542 1144h2v3h-2zM552 1144h3v3h-3zM563 1144h3v3h-3zM574 1144h3v3h-3zM585 1144h3v3h-3zM539 1147h3v3h-3zM550 1147h2v3h-2zM561 1147h2v3h-2zM572 1147h2v3h-2zM582 1147h3v3h-3zM536 1150h3v2h-3zM547 1150h3v2h-3zM558 1150h3v2h-3zM569 1150h3v2h-3zM580 1150h2v2h-2zM534 1152h2v3h-2zM544 1152h3v3h-3zM555 1152h3v3h-3zM566 1152h3v3h-3zM577 1152h3v3h-3zM542 1155h2v2h-2zM552 1155h3v2h-3zM563 1155h3v2h-3zM574 1155h3v2h-3zM585 1155h3v2h-3zM539 1157h3v3h-3zM550 1157h2v3h-2zM561 1157h2v3h-2zM572 1157h2v3h-2zM582 1157h3v3h-3zM536 1160h3v3h-3zM547 1160h3v3h-3zM558 1160h3v3h-3zM569 1160h3v3h-3zM580 1160h2v3h-2zM534 1163h2v2h-2zM544 1163h3v2h-3zM555 1163h3v2h-3zM566 1163h3v2h-3zM577 1163h3v2h-3zM542 1165h2v3h-2zM552 1165h3v3h-3zM563 1165h3v3h-3zM574 1165h3v3h-3zM585 1165h3v3h-3zM539 1168h3v3h-3zM550 1168h2v3h-2zM561 1168h2v3h-2zM572 1168h2v3h-2zM582 1168h3v3h-3zM536 1171h3v2h-3zM547 1171h3v2h-3zM558 1171h3v2h-3zM569 1171h3v2h-3zM580 1171h2v2h-2zM534 1173h2v3h-2zM544 1173h3v3h-3zM555 1173h3v3h-3zM566 1173h3v3h-3zM577 1173h3v3h-3zM542 1176h2v3h-2zM552 1176h3v3h-3zM563 1176h3v3h-3zM574 1176h3v3h-3zM585 1176h3v3h-3zM539 1179h3v2h-3zM550 1179h2v2h-2zM561 1179h2v2h-2zM572 1179h2v2h-2zM582 1179h3v2h-3zM536 1181h3v3h-3zM547 1181h3v3h-3zM558 1181h3v3h-3zM569 1181h3v3h-3zM580 1181h2v3h-2zM534 1184h2v3h-2zM544 1184h3v3h-3zM555 1184h3v3h-3zM566 1184h3v3h-3zM577 1184h3v3h-3zM542 1187h2v2h-2zM552 1187h3v2h-3zM563 1187h3v2h-3zM574 1187h3v2h-3zM585 1187h3v2h-3zM539 1189h3v3h-3zM550 1189h2v3h-2zM561 1189h2v3h-2zM572 1189h2v3h-2zM582 1189h3v3h-3zM536 1192h3v2h-3zM547 1192h3v2h-3zM558 1192h3v2h-3zM569 1192h3v2h-3zM580 1192h2v2h-2z" fill="#000" shape-rendering="crispEdges"/>
<rect x="534.75" y="1060.55" width="49.50" height="133.10" fill="none" stroke="#000" stroke-width="3.1" stroke-linejoin="round"/>
<path d="M433.00 1195.20V1098.30Q433.00 1096.80 434.50 1096.80H485.00V1195.20z" fill="#000"/>
<line x1="629.20" y1="1088.70" x2="629.20" y2="1102.90" stroke="#000" stroke-width="2.9" />
<line x1="623.30" y1="1089.70" x2="635.10" y2="1089.70" stroke="#000" stroke-width="3.0" />
<line x1="679.40" y1="1004.00" x2="679.40" y2="1047.40" stroke="#000" stroke-width="2.9" />
<line x1="673.50" y1="1005.00" x2="685.30" y2="1005.00" stroke="#000" stroke-width="3.0" />
<line x1="729.70" y1="1019.90" x2="729.70" y2="1064.50" stroke="#000" stroke-width="2.9" />
<line x1="723.80" y1="1020.90" x2="735.60" y2="1020.90" stroke="#000" stroke-width="3.0" />
<rect x="654.10" y="1045.90" width="53.00" height="149.30" fill="#fff" />
<path d="M655 1047h2v2h-2zM671 1047h3v2h-3zM676 1047h3v2h-3zM693 1047h2v2h-2zM698 1047h3v2h-3zM657 1049h3v3h-3zM668 1049h3v3h-3zM679 1049h3v3h-3zM690 1049h3v3h-3zM701 1049h3v3h-3zM660 1052h3v3h-3zM665 1052h3v3h-3zM682 1052h3v3h-3zM687 1052h3v3h-3zM704 1052h2v3h-2zM663 1055h2v2h-2zM685 1055h2v2h-2zM660 1057h3v3h-3zM665 1057h3v3h-3zM682 1057h3v3h-3zM687 1057h3v3h-3zM704 1057h2v3h-2zM657 1060h3v3h-3zM668 1060h3v3h-3zM679 1060h3v3h-3zM690 1060h3v3h-3zM701 1060h3v3h-3zM655 1063h2v2h-2zM671 1063h3v2h-3zM676 1063h3v2h-3zM693 1063h2v2h-2zM698 1063h3v2h-3zM674 1065h2v3h-2zM695 1065h3v3h-3zM655 1068h2v3h-2zM671 1068h3v3h-3zM676 1068h3v3h-3zM693 1068h2v3h-2zM698 1068h3v3h-3zM657 1071h3v2h-3zM668 1071h3v2h-3zM679 1071h3v2h-3zM690 1071h3v2h-3zM701 1071h3v2h-3zM660 1073h3v3h-3zM665 1073h3v3h-3zM682 1073h3v3h-3zM687 1073h3v3h-3zM704 1073h2v3h-2zM663 1076h2v3h-2zM685 1076h2v3h-2zM660 1079h3v2h-3zM665 1079h3v2h-3zM682 1079h3v2h-3zM687 1079h3v2h-3zM704 1079h2v2h-2zM657 1081h3v3h-3zM668 1081h3v3h-3zM679 1081h3v3h-3zM690 1081h3v3h-3zM701 1081h3v3h-3zM655 1084h2v3h-2zM671 1084h3v3h-3zM676 1084h3v3h-3zM693 1084h2v3h-2zM698 1084h3v3h-3zM674 1087h2v2h-2zM695 1087h3v2h-3zM655 1089h2v3h-2zM671 1089h3v3h-3zM676 1089h3v3h-3zM693 1089h2v3h-2zM698 1089h3v3h-3zM657 1092h3v3h-3zM668 1092h3v3h-3zM679 1092h3v3h-3zM690 1092h3v3h-3zM701 1092h3v3h-3zM660 1095h3v2h-3zM665 1095h3v2h-3zM682 1095h3v2h-3zM687 1095h3v2h-3zM704 1095h2v2h-2zM663 1097h2v3h-2zM685 1097h2v3h-2zM660 1100h3v3h-3zM665 1100h3v3h-3zM682 1100h3v3h-3zM687 1100h3v3h-3zM704 1100h2v3h-2zM657 1103h3v2h-3zM668 1103h3v2h-3zM679 1103h3v2h-3zM690 1103h3v2h-3zM701 1103h3v2h-3zM655 1105h2v3h-2zM671 1105h3v3h-3zM676 1105h3v3h-3zM693 1105h2v3h-2zM698 1105h3v3h-3zM674 1108h2v3h-2zM695 1108h3v3h-3zM655 1111h2v2h-2zM671 1111h3v2h-3zM676 1111h3v2h-3zM693 1111h2v2h-2zM698 1111h3v2h-3zM657 1113h3v3h-3zM668 1113h3v3h-3zM679 1113h3v3h-3zM690 1113h3v3h-3zM701 1113h3v3h-3zM660 1116h3v3h-3zM665 1116h3v3h-3zM682 1116h3v3h-3zM687 1116h3v3h-3zM704 1116h2v3h-2zM663 1119h2v2h-2zM685 1119h2v2h-2zM660 1121h3v3h-3zM665 1121h3v3h-3zM682 1121h3v3h-3zM687 1121h3v3h-3zM704 1121h2v3h-2zM657 1124h3v3h-3zM668 1124h3v3h-3zM679 1124h3v3h-3zM690 1124h3v3h-3zM701 1124h3v3h-3zM655 1127h2v2h-2zM671 1127h3v2h-3zM676 1127h3v2h-3zM693 1127h2v2h-2zM698 1127h3v2h-3zM674 1129h2v3h-2zM695 1129h3v3h-3zM655 1132h2v3h-2zM671 1132h3v3h-3zM676 1132h3v3h-3zM693 1132h2v3h-2zM698 1132h3v3h-3zM657 1135h3v2h-3zM668 1135h3v2h-3zM679 1135h3v2h-3zM690 1135h3v2h-3zM701 1135h3v2h-3zM660 1137h3v3h-3zM665 1137h3v3h-3zM682 1137h3v3h-3zM687 1137h3v3h-3zM704 1137h2v3h-2zM663 1140h2v3h-2zM685 1140h2v3h-2zM660 1143h3v3h-3zM665 1143h3v3h-3zM682 1143h3v3h-3zM687 1143h3v3h-3zM704 1143h2v3h-2zM657 1146h3v2h-3zM668 1146h3v2h-3zM679 1146h3v2h-3zM690 1146h3v2h-3zM701 1146h3v2h-3zM655 1148h2v3h-2zM671 1148h3v3h-3zM676 1148h3v3h-3zM693 1148h2v3h-2zM698 1148h3v3h-3zM674 1151h2v3h-2zM695 1151h3v3h-3zM655 1154h2v2h-2zM671 1154h3v2h-3zM676 1154h3v2h-3zM693 1154h2v2h-2zM698 1154h3v2h-3zM657 1156h3v3h-3zM668 1156h3v3h-3zM679 1156h3v3h-3zM690 1156h3v3h-3zM701 1156h3v3h-3zM660 1159h3v3h-3zM665 1159h3v3h-3zM682 1159h3v3h-3zM687 1159h3v3h-3zM704 1159h2v3h-2zM663 1162h2v2h-2zM685 1162h2v2h-2zM660 1164h3v3h-3zM665 1164h3v3h-3zM682 1164h3v3h-3zM687 1164h3v3h-3zM704 1164h2v3h-2zM657 1167h3v3h-3zM668 1167h3v3h-3zM679 1167h3v3h-3zM690 1167h3v3h-3zM701 1167h3v3h-3zM655 1170h2v2h-2zM671 1170h3v2h-3zM676 1170h3v2h-3zM693 1170h2v2h-2zM698 1170h3v2h-3zM674 1172h2v3h-2zM695 1172h3v3h-3zM655 1175h2v3h-2zM671 1175h3v3h-3zM676 1175h3v3h-3zM693 1175h2v3h-2zM698 1175h3v3h-3zM657 1178h3v2h-3zM668 1178h3v2h-3zM679 1178h3v2h-3zM690 1178h3v2h-3zM701 1178h3v2h-3zM660 1180h3v3h-3zM665 1180h3v3h-3zM682 1180h3v3h-3zM687 1180h3v3h-3zM704 1180h2v3h-2zM663 1183h2v3h-2zM685 1183h2v3h-2zM660 1186h3v2h-3zM665 1186h3v2h-3zM682 1186h3v2h-3zM687 1186h3v2h-3zM704 1186h2v2h-2zM657 1188h3v3h-3zM668 1188h3v3h-3zM679 1188h3v3h-3zM690 1188h3v3h-3zM701 1188h3v3h-3zM655 1191h2v3h-2zM671 1191h3v3h-3zM676 1191h3v3h-3zM693 1191h2v3h-2zM698 1191h3v3h-3z" fill="#000" shape-rendering="crispEdges"/>
<rect x="655.70" y="1047.50" width="49.80" height="146.10" fill="none" stroke="#000" stroke-width="3.2" stroke-linejoin="round"/>
<rect x="704.00" y="1063.00" width="52.60" height="132.20" fill="#fff" />
<path d="M712 1064h3v2h-3zM723 1064h3v2h-3zM734 1064h3v2h-3zM745 1064h3v2h-3zM756 1064h3v2h-3zM710 1066h2v3h-2zM721 1066h2v3h-2zM731 1066h3v3h-3zM742 1066h3v3h-3zM753 1066h3v3h-3zM707 1069h3v2h-3zM718 1069h3v2h-3zM729 1069h2v2h-2zM740 1069h2v2h-2zM751 1069h2v2h-2zM705 1071h2v3h-2zM715 1071h3v3h-3zM726 1071h3v3h-3zM737 1071h3v3h-3zM748 1071h3v3h-3zM712 1074h3v3h-3zM723 1074h3v3h-3zM734 1074h3v3h-3zM745 1074h3v3h-3zM756 1074h3v3h-3zM710 1077h2v2h-2zM721 1077h2v2h-2zM731 1077h3v2h-3zM742 1077h3v2h-3zM753 1077h3v2h-3zM707 1079h3v3h-3zM718 1079h3v3h-3zM729 1079h2v3h-2zM740 1079h2v3h-2zM751 1079h2v3h-2zM705 1082h2v3h-2zM715 1082h3v3h-3zM726 1082h3v3h-3zM737 1082h3v3h-3zM748 1082h3v3h-3zM712 1085h3v2h-3zM723 1085h3v2h-3zM734 1085h3v2h-3zM745 1085h3v2h-3zM756 1085h3v2h-3zM710 1087h2v3h-2zM721 1087h2v3h-2zM731 1087h3v3h-3zM742 1087h3v3h-3zM753 1087h3v3h-3zM707 1090h3v2h-3zM718 1090h3v2h-3zM729 1090h2v2h-2zM740 1090h2v2h-2zM751 1090h2v2h-2zM705 1092h2v3h-2zM715 1092h3v3h-3zM726 1092h3v3h-3zM737 1092h3v3h-3zM748 1092h3v3h-3zM712 1095h3v3h-3zM723 1095h3v3h-3zM734 1095h3v3h-3zM745 1095h3v3h-3zM756 1095h3v3h-3zM710 1098h2v2h-2zM721 1098h2v2h-2zM731 1098h3v2h-3zM742 1098h3v2h-3zM753 1098h3v2h-3zM707 1100h3v3h-3zM718 1100h3v3h-3zM729 1100h2v3h-2zM740 1100h2v3h-2zM751 1100h2v3h-2zM705 1103h2v3h-2zM715 1103h3v3h-3zM726 1103h3v3h-3zM737 1103h3v3h-3zM748 1103h3v3h-3zM712 1106h3v2h-3zM723 1106h3v2h-3zM734 1106h3v2h-3zM745 1106h3v2h-3zM756 1106h3v2h-3zM710 1108h2v3h-2zM721 1108h2v3h-2zM731 1108h3v3h-3zM742 1108h3v3h-3zM753 1108h3v3h-3zM707 1111h3v3h-3zM718 1111h3v3h-3zM729 1111h2v3h-2zM740 1111h2v3h-2zM751 1111h2v3h-2zM705 1114h2v2h-2zM715 1114h3v2h-3zM726 1114h3v2h-3zM737 1114h3v2h-3zM748 1114h3v2h-3zM712 1116h3v3h-3zM723 1116h3v3h-3zM734 1116h3v3h-3zM745 1116h3v3h-3zM756 1116h3v3h-3zM710 1119h2v3h-2zM721 1119h2v3h-2zM731 1119h3v3h-3zM742 1119h3v3h-3zM753 1119h3v3h-3zM707 1122h3v2h-3zM718 1122h3v2h-3zM729 1122h2v2h-2zM740 1122h2v2h-2zM751 1122h2v2h-2zM705 1124h2v3h-2zM715 1124h3v3h-3zM726 1124h3v3h-3zM737 1124h3v3h-3zM748 1124h3v3h-3zM712 1127h3v3h-3zM723 1127h3v3h-3zM734 1127h3v3h-3zM745 1127h3v3h-3zM756 1127h3v3h-3zM710 1130h2v2h-2zM721 1130h2v2h-2zM731 1130h3v2h-3zM742 1130h3v2h-3zM753 1130h3v2h-3zM707 1132h3v3h-3zM718 1132h3v3h-3zM729 1132h2v3h-2zM740 1132h2v3h-2zM751 1132h2v3h-2zM705 1135h2v3h-2zM715 1135h3v3h-3zM726 1135h3v3h-3zM737 1135h3v3h-3zM748 1135h3v3h-3zM712 1138h3v2h-3zM723 1138h3v2h-3zM734 1138h3v2h-3zM745 1138h3v2h-3zM756 1138h3v2h-3zM710 1140h2v3h-2zM721 1140h2v3h-2zM731 1140h3v3h-3zM742 1140h3v3h-3zM753 1140h3v3h-3zM707 1143h3v3h-3zM718 1143h3v3h-3zM729 1143h2v3h-2zM740 1143h2v3h-2zM751 1143h2v3h-2zM705 1146h2v2h-2zM715 1146h3v2h-3zM726 1146h3v2h-3zM737 1146h3v2h-3zM748 1146h3v2h-3zM712 1148h3v3h-3zM723 1148h3v3h-3zM734 1148h3v3h-3zM745 1148h3v3h-3zM756 1148h3v3h-3zM710 1151h2v3h-2zM721 1151h2v3h-2zM731 1151h3v3h-3zM742 1151h3v3h-3zM753 1151h3v3h-3zM707 1154h3v2h-3zM718 1154h3v2h-3zM729 1154h2v2h-2zM740 1154h2v2h-2zM751 1154h2v2h-2zM705 1156h2v3h-2zM715 1156h3v3h-3zM726 1156h3v3h-3zM737 1156h3v3h-3zM748 1156h3v3h-3zM712 1159h3v2h-3zM723 1159h3v2h-3zM734 1159h3v2h-3zM745 1159h3v2h-3zM756 1159h3v2h-3zM710 1161h2v3h-2zM721 1161h2v3h-2zM731 1161h3v3h-3zM742 1161h3v3h-3zM753 1161h3v3h-3zM707 1164h3v3h-3zM718 1164h3v3h-3zM729 1164h2v3h-2zM740 1164h2v3h-2zM751 1164h2v3h-2zM705 1167h2v2h-2zM715 1167h3v2h-3zM726 1167h3v2h-3zM737 1167h3v2h-3zM748 1167h3v2h-3zM712 1169h3v3h-3zM723 1169h3v3h-3zM734 1169h3v3h-3zM745 1169h3v3h-3zM756 1169h3v3h-3zM710 1172h2v3h-2zM721 1172h2v3h-2zM731 1172h3v3h-3zM742 1172h3v3h-3zM753 1172h3v3h-3zM707 1175h3v2h-3zM718 1175h3v2h-3zM729 1175h2v2h-2zM740 1175h2v2h-2zM751 1175h2v2h-2zM705 1177h2v3h-2zM715 1177h3v3h-3zM726 1177h3v3h-3zM737 1177h3v3h-3zM748 1177h3v3h-3zM712 1180h3v3h-3zM723 1180h3v3h-3zM734 1180h3v3h-3zM745 1180h3v3h-3zM756 1180h3v3h-3zM710 1183h2v2h-2zM721 1183h2v2h-2zM731 1183h3v2h-3zM742 1183h3v2h-3zM753 1183h3v2h-3zM707 1185h3v3h-3zM718 1185h3v3h-3zM729 1185h2v3h-2zM740 1185h2v3h-2zM751 1185h2v3h-2zM705 1188h2v3h-2zM715 1188h3v3h-3zM726 1188h3v3h-3zM737 1188h3v3h-3zM748 1188h3v3h-3zM712 1191h3v2h-3zM723 1191h3v2h-3zM734 1191h3v2h-3zM745 1191h3v2h-3zM756 1191h3v2h-3zM710 1193h2v1h-2zM721 1193h2v1h-2zM731 1193h3v1h-3zM742 1193h3v1h-3zM753 1193h3v1h-3z" fill="#000" shape-rendering="crispEdges"/>
<rect x="705.55" y="1064.55" width="49.50" height="129.10" fill="none" stroke="#000" stroke-width="3.1" stroke-linejoin="round"/>
<path d="M604.30 1195.20V1102.90Q604.30 1101.40 605.80 1101.40H656.00V1195.20z" fill="#000"/>
<line x1="800.00" y1="1123.90" x2="800.00" y2="1147.40" stroke="#000" stroke-width="2.9" />
<line x1="794.10" y1="1124.90" x2="805.90" y2="1124.90" stroke="#000" stroke-width="3.0" />
<line x1="850.30" y1="1114.90" x2="850.30" y2="1140.20" stroke="#000" stroke-width="2.9" />
<line x1="844.40" y1="1115.90" x2="856.20" y2="1115.90" stroke="#000" stroke-width="3.0" />
<line x1="900.00" y1="1106.60" x2="900.00" y2="1129.20" stroke="#000" stroke-width="2.9" />
<line x1="894.10" y1="1107.60" x2="905.90" y2="1107.60" stroke="#000" stroke-width="3.0" />
<rect x="824.50" y="1138.70" width="53.50" height="56.50" fill="#fff" />
<path d="M826 1140h2v2h-2zM841 1140h3v2h-3zM847 1140h2v2h-2zM863 1140h3v2h-3zM869 1140h2v2h-2zM828 1142h2v3h-2zM839 1142h2v3h-2zM849 1142h3v3h-3zM860 1142h3v3h-3zM871 1142h3v3h-3zM830 1145h3v2h-3zM836 1145h3v2h-3zM852 1145h3v2h-3zM858 1145h2v2h-2zM874 1145h3v2h-3zM833 1147h3v3h-3zM855 1147h3v3h-3zM830 1150h3v3h-3zM836 1150h3v3h-3zM852 1150h3v3h-3zM858 1150h2v3h-2zM874 1150h3v3h-3zM828 1153h2v2h-2zM839 1153h2v2h-2zM849 1153h3v2h-3zM860 1153h3v2h-3zM871 1153h3v2h-3zM826 1155h2v3h-2zM841 1155h3v3h-3zM847 1155h2v3h-2zM863 1155h3v3h-3zM869 1155h2v3h-2zM844 1158h3v3h-3zM866 1158h3v3h-3zM826 1161h2v2h-2zM841 1161h3v2h-3zM847 1161h2v2h-2zM863 1161h3v2h-3zM869 1161h2v2h-2zM828 1163h2v3h-2zM839 1163h2v3h-2zM849 1163h3v3h-3zM860 1163h3v3h-3zM871 1163h3v3h-3zM830 1166h3v3h-3zM836 1166h3v3h-3zM852 1166h3v3h-3zM858 1166h2v3h-2zM874 1166h3v3h-3zM833 1169h3v2h-3zM855 1169h3v2h-3zM830 1171h3v3h-3zM836 1171h3v3h-3zM852 1171h3v3h-3zM858 1171h2v3h-2zM874 1171h3v3h-3zM828 1174h2v3h-2zM839 1174h2v3h-2zM849 1174h3v3h-3zM860 1174h3v3h-3zM871 1174h3v3h-3zM826 1177h2v2h-2zM841 1177h3v2h-3zM847 1177h2v2h-2zM863 1177h3v2h-3zM869 1177h2v2h-2zM844 1179h3v3h-3zM866 1179h3v3h-3zM826 1182h2v3h-2zM841 1182h3v3h-3zM847 1182h2v3h-2zM863 1182h3v3h-3zM869 1182h2v3h-2zM828 1185h2v2h-2zM839 1185h2v2h-2zM849 1185h3v2h-3zM860 1185h3v2h-3zM871 1185h3v2h-3zM830 1187h3v3h-3zM836 1187h3v3h-3zM852 1187h3v3h-3zM858 1187h2v3h-2zM874 1187h3v3h-3zM833 1190h3v3h-3zM855 1190h3v3h-3zM830 1193h3v1h-3zM836 1193h3v1h-3zM852 1193h3v1h-3zM858 1193h2v1h-2zM874 1193h3v1h-3z" fill="#000" shape-rendering="crispEdges"/>
<rect x="826.10" y="1140.30" width="50.30" height="53.30" fill="none" stroke="#000" stroke-width="3.2" stroke-linejoin="round"/>
<rect x="874.90" y="1127.70" width="53.20" height="67.50" fill="#fff" />
<path d="M883 1129h3v2h-3zM894 1129h3v2h-3zM905 1129h3v2h-3zM916 1129h3v2h-3zM927 1129h3v2h-3zM881 1131h2v2h-2zM891 1131h3v2h-3zM902 1131h3v2h-3zM913 1131h3v2h-3zM924 1131h3v2h-3zM878 1133h3v3h-3zM889 1133h2v3h-2zM900 1133h2v3h-2zM911 1133h2v3h-2zM921 1133h3v3h-3zM876 1136h2v3h-2zM886 1136h3v3h-3zM897 1136h3v3h-3zM908 1136h3v3h-3zM919 1136h2v3h-2zM883 1139h3v2h-3zM894 1139h3v2h-3zM905 1139h3v2h-3zM916 1139h3v2h-3zM927 1139h3v2h-3zM881 1141h2v3h-2zM891 1141h3v3h-3zM902 1141h3v3h-3zM913 1141h3v3h-3zM924 1141h3v3h-3zM878 1144h3v3h-3zM889 1144h2v3h-2zM900 1144h2v3h-2zM911 1144h2v3h-2zM921 1144h3v3h-3zM876 1147h2v2h-2zM886 1147h3v2h-3zM897 1147h3v2h-3zM908 1147h3v2h-3zM919 1147h2v2h-2zM883 1149h3v3h-3zM894 1149h3v3h-3zM905 1149h3v3h-3zM916 1149h3v3h-3zM927 1149h3v3h-3zM881 1152h2v3h-2zM891 1152h3v3h-3zM902 1152h3v3h-3zM913 1152h3v3h-3zM924 1152h3v3h-3zM878 1155h3v2h-3zM889 1155h2v2h-2zM900 1155h2v2h-2zM911 1155h2v2h-2zM921 1155h3v2h-3zM876 1157h2v3h-2zM886 1157h3v3h-3zM897 1157h3v3h-3zM908 1157h3v3h-3zM919 1157h2v3h-2zM883 1160h3v2h-3zM894 1160h3v2h-3zM905 1160h3v2h-3zM916 1160h3v2h-3zM927 1160h3v2h-3zM881 1162h2v3h-2zM891 1162h3v3h-3zM902 1162h3v3h-3zM913 1162h3v3h-3zM924 1162h3v3h-3zM878 1165h3v3h-3zM889 1165h2v3h-2zM900 1165h2v3h-2zM911 1165h2v3h-2zM921 1165h3v3h-3zM876 1168h2v2h-2zM886 1168h3v2h-3zM897 1168h3v2h-3zM908 1168h3v2h-3zM919 1168h2v2h-2zM883 1170h3v3h-3zM894 1170h3v3h-3zM905 1170h3v3h-3zM916 1170h3v3h-3zM927 1170h3v3h-3zM881 1173h2v3h-2zM891 1173h3v3h-3zM902 1173h3v3h-3zM913 1173h3v3h-3zM924 1173h3v3h-3zM878 1176h3v2h-3zM889 1176h2v2h-2zM900 1176h2v2h-2zM911 1176h2v2h-2zM921 1176h3v2h-3zM876 1178h2v3h-2zM886 1178h3v3h-3zM897 1178h3v3h-3zM908 1178h3v3h-3zM919 1178h2v3h-2zM883 1181h3v3h-3zM894 1181h3v3h-3zM905 1181h3v3h-3zM916 1181h3v3h-3zM927 1181h3v3h-3zM881 1184h2v2h-2zM891 1184h3v2h-3zM902 1184h3v2h-3zM913 1184h3v2h-3zM924 1184h3v2h-3zM878 1186h3v3h-3zM889 1186h2v3h-2zM900 1186h2v3h-2zM911 1186h2v3h-2zM921 1186h3v3h-3zM876 1189h2v3h-2zM886 1189h3v3h-3zM897 1189h3v3h-3zM908 1189h3v3h-3zM919 1189h2v3h-2zM883 1192h3v2h-3zM894 1192h3v2h-3zM905 1192h3v2h-3zM916 1192h3v2h-3zM927 1192h3v2h-3z" fill="#000" shape-rendering="crispEdges"/>
<rect x="876.45" y="1129.25" width="50.10" height="64.40" fill="none" stroke="#000" stroke-width="3.1" stroke-linejoin="round"/>
<path d="M774.40 1195.20V1147.40Q774.40 1145.90 775.90 1145.90H826.50V1195.20z" fill="#000"/>
<line x1="968.00" y1="1110.80" x2="968.00" y2="1135.70" stroke="#000" stroke-width="2.9" />
<line x1="962.10" y1="1111.80" x2="973.90" y2="1111.80" stroke="#000" stroke-width="3.0" />
<line x1="1018.00" y1="1119.80" x2="1018.00" y2="1142.40" stroke="#000" stroke-width="2.9" />
<line x1="1012.10" y1="1120.80" x2="1023.90" y2="1120.80" stroke="#000" stroke-width="3.0" />
<line x1="1068.30" y1="1063.90" x2="1068.30" y2="1109.10" stroke="#000" stroke-width="2.9" />
<line x1="1062.40" y1="1064.90" x2="1074.20" y2="1064.90" stroke="#000" stroke-width="3.0" />
<rect x="994.00" y="1140.90" width="51.90" height="54.30" fill="#fff" />
<path d="M995 1142h2v2h-2zM1011 1142h3v2h-3zM1016 1142h3v2h-3zM1033 1142h2v2h-2zM1038 1142h3v2h-3zM997 1144h3v3h-3zM1008 1144h3v3h-3zM1019 1144h3v3h-3zM1030 1144h3v3h-3zM1041 1144h3v3h-3zM1000 1147h3v3h-3zM1005 1147h3v3h-3zM1022 1147h2v3h-2zM1027 1147h3v3h-3zM1044 1147h1v3h-1zM1003 1150h2v2h-2zM1024 1150h3v2h-3zM1000 1152h3v3h-3zM1005 1152h3v3h-3zM1022 1152h2v3h-2zM1027 1152h3v3h-3zM1044 1152h1v3h-1zM997 1155h3v3h-3zM1008 1155h3v3h-3zM1019 1155h3v3h-3zM1030 1155h3v3h-3zM1041 1155h3v3h-3zM995 1158h2v2h-2zM1011 1158h3v2h-3zM1016 1158h3v2h-3zM1033 1158h2v2h-2zM1038 1158h3v2h-3zM1014 1160h2v3h-2zM1035 1160h3v3h-3zM995 1163h2v3h-2zM1011 1163h3v3h-3zM1016 1163h3v3h-3zM1033 1163h2v3h-2zM1038 1163h3v3h-3zM997 1166h3v2h-3zM1008 1166h3v2h-3zM1019 1166h3v2h-3zM1030 1166h3v2h-3zM1041 1166h3v2h-3zM1000 1168h3v3h-3zM1005 1168h3v3h-3zM1022 1168h2v3h-2zM1027 1168h3v3h-3zM1044 1168h1v3h-1zM1003 1171h2v3h-2zM1024 1171h3v3h-3zM1000 1174h3v2h-3zM1005 1174h3v2h-3zM1022 1174h2v2h-2zM1027 1174h3v2h-3zM1044 1174h1v2h-1zM997 1176h3v3h-3zM1008 1176h3v3h-3zM1019 1176h3v3h-3zM1030 1176h3v3h-3zM1041 1176h3v3h-3zM995 1179h2v3h-2zM1011 1179h3v3h-3zM1016 1179h3v3h-3zM1033 1179h2v3h-2zM1038 1179h3v3h-3zM1014 1182h2v2h-2zM1035 1182h3v2h-3zM995 1184h2v3h-2zM1011 1184h3v3h-3zM1016 1184h3v3h-3zM1033 1184h2v3h-2zM1038 1184h3v3h-3zM997 1187h3v3h-3zM1008 1187h3v3h-3zM1019 1187h3v3h-3zM1030 1187h3v3h-3zM1041 1187h3v3h-3zM1000 1190h3v2h-3zM1005 1190h3v2h-3zM1022 1190h2v2h-2zM1027 1190h3v2h-3zM1044 1190h1v2h-1zM1003 1192h2v2h-2zM1024 1192h3v2h-3z" fill="#000" shape-rendering="crispEdges"/>
<rect x="995.60" y="1142.50" width="48.70" height="51.10" fill="none" stroke="#000" stroke-width="3.2" stroke-linejoin="round"/>
<rect x="1043.00" y="1107.60" width="52.80" height="87.60" fill="#fff" />
<path d="M1051 1109h3v2h-3zM1062 1109h3v2h-3zM1073 1109h3v2h-3zM1084 1109h3v2h-3zM1095 1109h3v2h-3zM1049 1111h2v2h-2zM1060 1111h2v2h-2zM1070 1111h3v2h-3zM1081 1111h3v2h-3zM1092 1111h3v2h-3zM1046 1113h3v3h-3zM1057 1113h3v3h-3zM1068 1113h2v3h-2zM1079 1113h2v3h-2zM1090 1113h2v3h-2zM1044 1116h2v2h-2zM1054 1116h3v2h-3zM1065 1116h3v2h-3zM1076 1116h3v2h-3zM1087 1116h3v2h-3zM1051 1118h3v3h-3zM1062 1118h3v3h-3zM1073 1118h3v3h-3zM1084 1118h3v3h-3zM1095 1118h3v3h-3zM1049 1121h2v3h-2zM1060 1121h2v3h-2zM1070 1121h3v3h-3zM1081 1121h3v3h-3zM1092 1121h3v3h-3zM1046 1124h3v2h-3zM1057 1124h3v2h-3zM1068 1124h2v2h-2zM1079 1124h2v2h-2zM1090 1124h2v2h-2zM1044 1126h2v3h-2zM1054 1126h3v3h-3zM1065 1126h3v3h-3zM1076 1126h3v3h-3zM1087 1126h3v3h-3zM1051 1129h3v3h-3zM1062 1129h3v3h-3zM1073 1129h3v3h-3zM1084 1129h3v3h-3zM1095 1129h3v3h-3zM1049 1132h2v2h-2zM1060 1132h2v2h-2zM1070 1132h3v2h-3zM1081 1132h3v2h-3zM1092 1132h3v2h-3zM1046 1134h3v3h-3zM1057 1134h3v3h-3zM1068 1134h2v3h-2zM1079 1134h2v3h-2zM1090 1134h2v3h-2zM1044 1137h2v3h-2zM1054 1137h3v3h-3zM1065 1137h3v3h-3zM1076 1137h3v3h-3zM1087 1137h3v3h-3zM1051 1140h3v2h-3zM1062 1140h3v2h-3zM1073 1140h3v2h-3zM1084 1140h3v2h-3zM1095 1140h3v2h-3zM1049 1142h2v3h-2zM1060 1142h2v3h-2zM1070 1142h3v3h-3zM1081 1142h3v3h-3zM1092 1142h3v3h-3zM1046 1145h3v3h-3zM1057 1145h3v3h-3zM1068 1145h2v3h-2zM1079 1145h2v3h-2zM1090 1145h2v3h-2zM1044 1148h2v2h-2zM1054 1148h3v2h-3zM1065 1148h3v2h-3zM1076 1148h3v2h-3zM1087 1148h3v2h-3zM1051 1150h3v3h-3zM1062 1150h3v3h-3zM1073 1150h3v3h-3zM1084 1150h3v3h-3zM1095 1150h3v3h-3zM1049 1153h2v3h-2zM1060 1153h2v3h-2zM1070 1153h3v3h-3zM1081 1153h3v3h-3zM1092 1153h3v3h-3zM1046 1156h3v2h-3zM1057 1156h3v2h-3zM1068 1156h2v2h-2zM1079 1156h2v2h-2zM1090 1156h2v2h-2zM1044 1158h2v3h-2zM1054 1158h3v3h-3zM1065 1158h3v3h-3zM1076 1158h3v3h-3zM1087 1158h3v3h-3zM1051 1161h3v3h-3zM1062 1161h3v3h-3zM1073 1161h3v3h-3zM1084 1161h3v3h-3zM1095 1161h3v3h-3zM1049 1164h2v2h-2zM1060 1164h2v2h-2zM1070 1164h3v2h-3zM1081 1164h3v2h-3zM1092 1164h3v2h-3zM1046 1166h3v3h-3zM1057 1166h3v3h-3zM1068 1166h2v3h-2zM1079 1166h2v3h-2zM1090 1166h2v3h-2zM1044 1169h2v3h-2zM1054 1169h3v3h-3zM1065 1169h3v3h-3zM1076 1169h3v3h-3zM1087 1169h3v3h-3zM1051 1172h3v2h-3zM1062 1172h3v2h-3zM1073 1172h3v2h-3zM1084 1172h3v2h-3zM1095 1172h3v2h-3zM1049 1174h2v3h-2zM1060 1174h2v3h-2zM1070 1174h3v3h-3zM1081 1174h3v3h-3zM1092 1174h3v3h-3zM1046 1177h3v3h-3zM1057 1177h3v3h-3zM1068 1177h2v3h-2zM1079 1177h2v3h-2zM1090 1177h2v3h-2zM1044 1180h2v2h-2zM1054 1180h3v2h-3zM1065 1180h3v2h-3zM1076 1180h3v2h-3zM1087 1180h3v2h-3zM1051 1182h3v3h-3zM1062 1182h3v3h-3zM1073 1182h3v3h-3zM1084 1182h3v3h-3zM1095 1182h3v3h-3zM1049 1185h2v3h-2zM1060 1185h2v3h-2zM1070 1185h3v3h-3zM1081 1185h3v3h-3zM1092 1185h3v3h-3zM1046 1188h3v2h-3zM1057 1188h3v2h-3zM1068 1188h2v2h-2zM1079 1188h2v2h-2zM1090 1188h2v2h-2zM1044 1190h2v3h-2zM1054 1190h3v3h-3zM1065 1190h3v3h-3zM1076 1190h3v3h-3zM1087 1190h3v3h-3zM1051 1193h3v1h-3zM1062 1193h3v1h-3zM1073 1193h3v1h-3zM1084 1193h3v1h-3zM1095 1193h3v1h-3z" fill="#000" shape-rendering="crispEdges"/>
<rect x="1044.55" y="1109.15" width="49.70" height="84.50" fill="none" stroke="#000" stroke-width="3.1" stroke-linejoin="round"/>
<path d="M942.30 1195.20V1135.70Q942.30 1134.20 943.80 1134.20H997.00V1195.20z" fill="#000"/>
<line x1="340.70" y1="1194.00" x2="340.70" y2="1198.00" stroke="#000" stroke-width="2.6" />
<line x1="508.50" y1="1194.00" x2="508.50" y2="1198.00" stroke="#000" stroke-width="2.6" />
<line x1="679.40" y1="1194.00" x2="679.40" y2="1198.00" stroke="#000" stroke-width="2.6" />
<line x1="850.30" y1="1194.00" x2="850.30" y2="1198.00" stroke="#000" stroke-width="2.6" />
<line x1="1018.00" y1="1194.00" x2="1018.00" y2="1198.00" stroke="#000" stroke-width="2.6" />
<rect x="811.10" y="800.00" width="38.90" height="30.00" fill="#000" />
<rect x="811.10" y="839.80" width="38.90" height="30.10" fill="#000" />
<rect x="818.00" y="846.00" width="26.30" height="17.80" fill="#fff" />
<path d="M818 846h1v2h-1zM822 846h3v2h-3zM838 846h3v2h-3zM819 848h3v3h-3zM841 848h3v3h-3zM818 851h1v2h-1zM822 851h3v2h-3zM838 851h3v2h-3zM825 853h2v3h-2zM835 853h3v3h-3zM827 856h3v3h-3zM833 856h2v3h-2zM830 859h3v2h-3zM827 861h3v3h-3zM833 861h2v3h-2z" fill="#000" shape-rendering="crispEdges"/>
<rect x="811.10" y="879.90" width="38.90" height="29.90" fill="#000" />
<rect x="818.00" y="884.90" width="26.30" height="19.90" fill="#fff" />
<path d="M825 885h3v3h-3zM836 885h3v3h-3zM822 888h3v2h-3zM833 888h3v2h-3zM819 890h3v3h-3zM830 890h3v3h-3zM841 890h3v3h-3zM818 893h1v3h-1zM828 893h2v3h-2zM839 893h2v3h-2zM825 896h3v2h-3zM836 896h3v2h-3zM822 898h3v3h-3zM833 898h3v3h-3zM819 901h3v3h-3zM830 901h3v3h-3zM841 901h3v3h-3zM818 904h1v1h-1zM828 904h2v1h-2zM839 904h2v1h-2z" fill="#000" shape-rendering="crispEdges"/>
<rect x="108.00" y="1436.00" width="998.00" height="1.00" fill="#000" shape-rendering="crispEdges"/>
<rect x="108.00" y="1435.70" width="998.00" height="1.50" fill="#000" opacity="0.25"/>
<rect x="0.00" y="1584.00" width="1221.00" height="1.00" fill="#000" shape-rendering="crispEdges"/>
<rect x="827.00" y="1584.00" width="1.00" height="1.00" fill="#0000ff" shape-rendering="crispEdges"/>
<rect x="829.00" y="1584.00" width="1.00" height="1.00" fill="#004000" shape-rendering="crispEdges"/>
<rect x="832.00" y="1584.00" width="1.00" height="1.00" fill="#a00000" shape-rendering="crispEdges"/>
<rect x="833.00" y="1584.00" width="1.00" height="1.00" fill="#00c020" shape-rendering="crispEdges"/>
<rect x="836.00" y="1584.00" width="1.00" height="1.00" fill="#703000" shape-rendering="crispEdges"/>
<rect x="837.00" y="1584.00" width="1.00" height="1.00" fill="#000070" shape-rendering="crispEdges"/>
<rect x="840.00" y="1584.00" width="1.00" height="1.00" fill="#d00000" shape-rendering="crispEdges"/>
<rect x="841.00" y="1584.00" width="1.00" height="1.00" fill="#0040ff" shape-rendering="crispEdges"/>
<rect x="844.00" y="1584.00" width="1.00" height="1.00" fill="#e00000" shape-rendering="crispEdges"/>
</svg>
</body></html>
